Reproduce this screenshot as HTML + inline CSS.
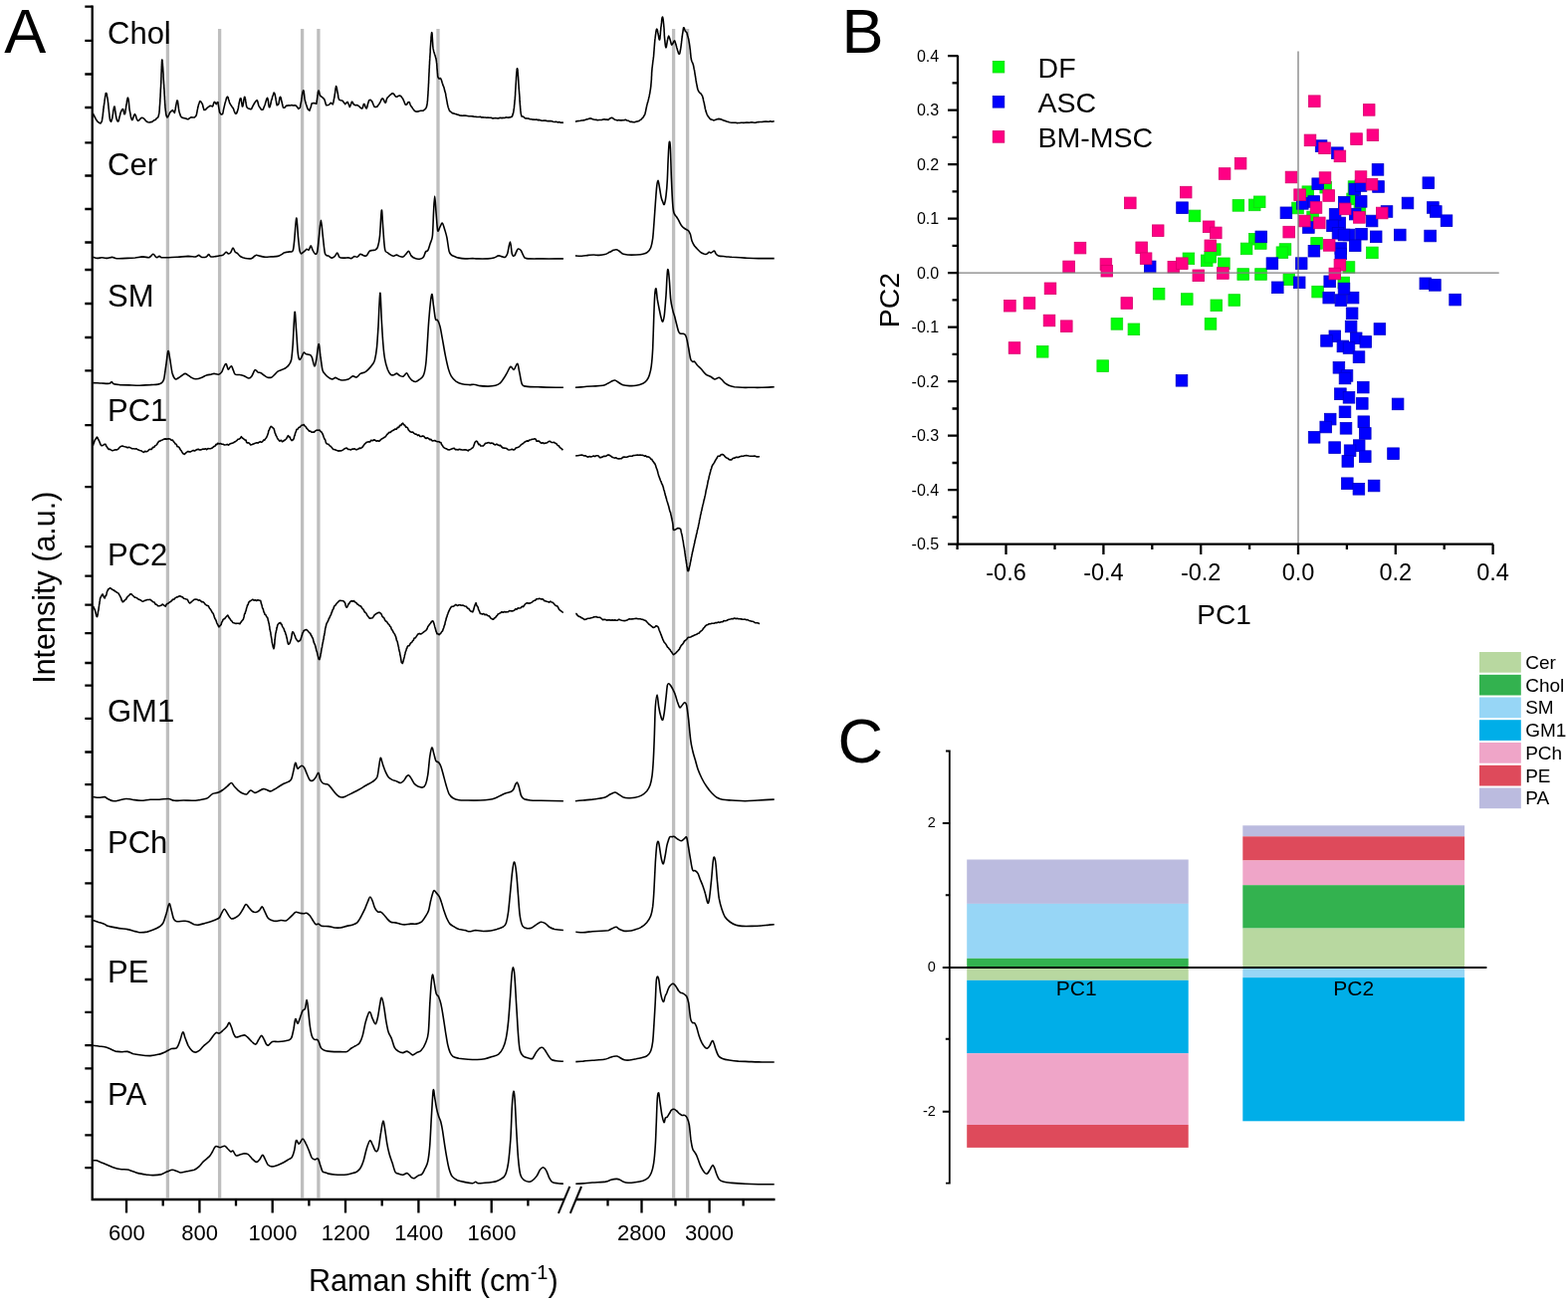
<!DOCTYPE html>
<html><head><meta charset="utf-8"><title>Figure</title>
<style>html,body{margin:0;padding:0;background:#fff;}svg{display:block;}</style></head>
<body><svg width="1575" height="1309" viewBox="0 0 1575 1309" font-family="'Liberation Sans', Arial, sans-serif" fill="#000">
<line x1="168.4" y1="29" x2="168.4" y2="1203.5" stroke="#bebebe" stroke-width="3.3"/>
<line x1="220.6" y1="29" x2="220.6" y2="1203.5" stroke="#bebebe" stroke-width="3.3"/>
<line x1="303.6" y1="29" x2="303.6" y2="1203.5" stroke="#bebebe" stroke-width="3.3"/>
<line x1="319.9" y1="29" x2="319.9" y2="1203.5" stroke="#bebebe" stroke-width="3.3"/>
<line x1="440.0" y1="29" x2="440.0" y2="1203.5" stroke="#bebebe" stroke-width="3.3"/>
<line x1="676.6" y1="29" x2="676.6" y2="1203.5" stroke="#bebebe" stroke-width="3.3"/>
<line x1="690.6" y1="29" x2="690.6" y2="1203.5" stroke="#bebebe" stroke-width="3.3"/>
<path d="M93.4,113.8 L93.7,114.5 L94.3,115.9 L94.9,116.9 L95.6,118.5 L96.3,119.7 L96.9,120.5 L97.9,122.1 L99.0,122.8 L99.9,123.5 L101.1,123.9 L102.2,122.0 L102.4,121.5 L102.5,120.9 L102.7,119.4 L102.9,118.3 L103.0,117.3 L103.2,116.2 L103.4,114.6 L103.5,113.1 L103.7,112.1 L103.8,110.1 L104.0,109.3 L104.2,107.7 L104.3,106.4 L104.5,105.3 L104.7,103.9 L104.9,102.7 L105.1,100.8 L105.3,99.5 L105.5,98.2 L105.7,96.7 L105.9,95.7 L106.1,94.4 L106.3,93.8 L106.5,93.5 L106.8,93.7 L107.1,94.1 L107.4,95.2 L107.6,96.9 L108.0,98.8 L108.3,100.8 L108.4,102.1 L108.6,103.1 L108.7,104.0 L108.8,105.6 L109.0,107.0 L109.1,108.6 L109.3,110.0 L109.4,111.3 L109.6,113.2 L109.7,114.1 L109.9,115.7 L110.0,117.2 L110.2,118.0 L110.3,119.2 L110.4,119.8 L110.6,120.9 L111.6,122.2 L112.6,119.3 L112.8,118.6 L113.0,117.0 L113.2,115.8 L113.5,114.1 L113.7,112.4 L113.9,110.8 L114.2,109.6 L114.4,108.5 L114.6,107.4 L114.8,107.1 L115.1,107.0 L115.3,108.1 L115.5,109.2 L115.7,110.9 L115.9,112.3 L116.1,113.6 L116.3,115.2 L116.5,116.8 L116.7,117.4 L117.1,119.6 L117.6,121.0 L118.1,122.0 L118.6,122.0 L119.0,121.8 L119.4,120.3 L119.7,118.9 L120.1,117.3 L120.5,116.0 L120.9,114.0 L121.2,113.1 L122.0,111.2 L122.8,110.0 L123.5,109.5 L124.0,110.8 L124.4,112.7 L124.8,114.6 L125.4,114.6 L125.5,114.3 L125.8,113.3 L126.0,111.5 L126.2,110.0 L126.5,108.4 L126.7,106.7 L127.0,105.0 L127.3,103.4 L127.5,101.6 L127.7,100.1 L128.0,99.3 L128.2,98.5 L128.4,98.2 L128.6,98.6 L128.8,99.0 L129.0,99.8 L129.2,101.1 L129.4,102.6 L129.5,103.9 L129.7,106.0 L129.8,107.6 L130.0,109.3 L130.2,110.6 L130.4,111.6 L130.7,113.2 L131.0,114.7 L131.3,116.7 L131.6,117.8 L132.0,119.1 L132.3,120.1 L132.7,120.6 L133.2,120.3 L133.7,118.7 L134.3,116.8 L134.8,115.4 L135.4,114.7 L135.9,115.4 L136.4,116.3 L136.9,118.3 L137.5,119.6 L138.0,120.6 L138.5,121.4 L139.8,120.7 L141.0,119.2 L142.5,118.2 L144.1,118.7 L144.9,119.5 L145.6,120.3 L146.4,121.4 L147.1,122.0 L148.6,122.8 L150.2,123.0 L151.4,122.6 L152.8,122.4 L154.0,121.3 L155.1,120.6 L156.1,120.5 L157.0,119.3 L157.8,118.4 L158.5,118.2 L159.2,116.6 L159.8,113.9 L159.9,113.4 L160.0,112.5 L160.1,111.5 L160.2,110.2 L160.3,109.2 L160.3,107.9 L160.4,107.1 L160.5,105.7 L160.6,104.6 L160.7,103.0 L160.8,101.6 L160.8,100.6 L160.9,99.3 L161.0,97.9 L161.1,96.4 L161.1,95.1 L161.2,93.6 L161.3,91.9 L161.3,90.8 L161.4,89.4 L161.5,87.9 L161.6,86.6 L161.6,85.6 L161.7,84.2 L161.8,83.1 L161.8,81.7 L161.9,79.8 L161.9,78.5 L162.0,76.9 L162.0,75.3 L162.1,73.3 L162.2,71.6 L162.2,70.0 L162.3,68.4 L162.3,67.0 L162.4,65.9 L162.4,64.8 L162.5,63.6 L162.5,62.3 L162.6,61.6 L162.6,61.0 L162.7,60.0 L162.8,60.0 L162.8,60.1 L162.9,60.1 L163.0,60.4 L163.1,60.8 L163.2,61.3 L163.2,62.6 L163.3,63.4 L163.4,64.8 L163.5,66.2 L163.6,67.3 L163.7,68.8 L163.8,70.7 L163.9,72.1 L164.0,73.4 L164.1,75.0 L164.1,76.7 L164.2,78.8 L164.3,80.3 L164.4,81.4 L164.5,83.3 L164.6,84.7 L164.7,85.8 L164.7,86.9 L164.8,88.3 L164.9,89.4 L165.0,90.7 L165.1,92.6 L165.1,93.8 L165.2,95.0 L165.3,96.6 L165.4,97.7 L165.4,99.3 L165.5,100.5 L165.6,101.4 L165.6,102.7 L165.7,103.9 L165.8,105.1 L165.9,106.4 L165.9,107.2 L166.0,108.3 L166.1,109.0 L166.2,110.3 L166.5,112.4 L166.7,114.3 L167.0,115.8 L167.3,116.9 L167.7,117.3 L168.0,118.0 L168.6,117.4 L169.3,116.1 L170.1,114.4 L170.8,112.9 L172.2,111.5 L173.5,110.7 L174.4,112.3 L175.3,113.3 L175.6,112.2 L175.8,111.2 L176.1,110.0 L176.4,108.2 L176.7,106.4 L177.0,104.9 L177.3,103.4 L177.6,102.3 L177.8,101.1 L178.1,101.0 L178.3,101.0 L178.5,101.7 L178.7,103.1 L178.9,104.4 L179.1,106.0 L179.3,107.7 L179.5,109.4 L179.7,110.5 L179.9,111.7 L180.3,113.2 L180.7,114.6 L181.2,116.0 L181.7,116.9 L182.2,117.7 L183.6,118.4 L185.2,118.7 L186.5,119.0 L187.8,119.6 L189.0,119.8 L190.5,118.6 L192.1,117.7 L193.6,118.0 L195.3,118.0 L196.7,116.7 L197.1,115.9 L197.4,115.0 L197.7,113.5 L198.0,112.1 L198.2,110.6 L198.5,109.5 L198.7,108.3 L199.0,107.3 L199.5,105.0 L200.0,103.7 L200.4,102.5 L200.9,101.5 L202.0,102.4 L203.1,104.3 L203.5,104.9 L203.8,106.8 L204.2,108.0 L204.6,109.3 L205.0,110.4 L206.5,110.1 L208.1,108.4 L209.1,107.7 L210.2,106.9 L211.1,106.2 L212.4,106.6 L213.4,106.9 L213.9,106.3 L214.4,104.4 L214.8,103.3 L215.3,102.4 L216.3,103.2 L217.2,104.7 L218.0,103.2 L218.8,102.5 L219.0,102.9 L219.2,104.4 L219.4,105.6 L219.6,107.1 L219.8,108.1 L220.0,109.6 L220.3,110.9 L220.5,112.5 L220.7,113.0 L222.0,114.9 L223.3,114.6 L223.7,114.2 L224.0,113.0 L224.3,111.3 L224.6,109.7 L224.9,108.6 L225.3,106.9 L225.6,105.6 L226.0,103.9 L226.4,102.4 L226.8,101.2 L227.2,99.6 L227.6,98.1 L228.0,97.8 L228.4,97.2 L228.8,97.6 L229.2,98.1 L229.6,100.0 L230.1,101.1 L230.5,103.0 L231.0,104.0 L231.7,105.2 L232.5,106.4 L233.3,107.7 L234.0,108.4 L234.6,109.6 L235.1,111.2 L235.6,112.4 L236.1,113.5 L236.6,114.2 L237.6,113.9 L238.6,111.4 L238.8,110.6 L239.1,109.5 L239.4,108.4 L239.6,106.6 L239.9,105.2 L240.2,103.5 L240.5,102.1 L240.8,100.6 L241.1,99.7 L241.4,98.8 L241.6,98.8 L242.0,98.9 L242.3,99.9 L242.5,101.7 L242.8,103.9 L243.1,105.1 L243.3,106.8 L243.6,107.0 L243.9,106.5 L244.1,105.6 L244.4,103.7 L244.7,102.0 L244.9,100.3 L245.2,98.9 L245.5,97.5 L245.7,97.3 L246.0,97.6 L246.2,98.5 L246.5,99.7 L246.7,101.2 L247.0,102.8 L247.2,104.4 L247.5,105.8 L247.7,107.2 L248.7,108.6 L249.7,109.1 L251.8,109.8 L252.5,109.5 L253.1,108.4 L253.8,106.9 L254.6,105.4 L255.4,104.0 L256.4,102.4 L257.3,101.3 L258.1,100.7 L258.6,101.5 L259.0,102.6 L259.4,104.6 L259.9,106.1 L260.4,107.1 L261.4,108.5 L262.6,110.3 L263.7,110.3 L264.4,109.7 L264.9,108.3 L265.4,107.0 L266.0,105.5 L266.4,104.3 L266.9,102.6 L267.3,101.2 L267.8,99.5 L268.2,98.8 L268.6,98.4 L268.9,99.2 L269.2,100.3 L269.5,102.1 L269.7,104.1 L270.0,105.8 L270.3,107.3 L270.6,107.8 L270.9,107.7 L271.3,106.6 L271.7,105.1 L272.1,103.5 L272.4,101.5 L272.9,100.1 L273.3,99.1 L273.7,96.9 L274.2,95.7 L274.7,94.3 L275.1,93.1 L275.6,93.5 L275.9,94.1 L276.1,94.8 L276.4,96.1 L276.7,97.6 L277.0,98.8 L277.2,100.7 L277.5,102.2 L277.7,103.8 L278.0,104.9 L278.2,105.7 L279.7,104.8 L280.0,104.0 L280.3,102.3 L280.6,100.6 L280.9,98.7 L281.3,97.5 L281.7,97.4 L282.0,98.0 L282.3,98.8 L282.6,100.6 L283.0,102.0 L283.4,103.7 L283.7,105.3 L284.1,106.8 L284.4,107.8 L284.7,108.3 L285.8,108.3 L287.3,106.4 L288.5,106.1 L290.0,105.9 L291.5,106.0 L293.0,105.6 L294.2,106.0 L295.9,105.7 L297.2,106.0 L298.5,107.5 L299.8,109.3 L301.0,108.4 L301.3,108.0 L301.6,107.2 L301.8,105.6 L302.1,104.1 L302.4,102.6 L302.7,101.1 L302.9,99.5 L303.2,97.7 L303.4,96.2 L303.7,94.4 L303.9,93.1 L304.1,92.1 L304.4,91.6 L304.6,90.9 L304.9,91.0 L305.1,91.3 L305.3,92.6 L305.5,94.2 L305.7,96.2 L305.9,98.1 L306.1,99.7 L306.4,100.8 L306.7,102.3 L307.1,103.6 L307.5,105.0 L308.0,106.1 L308.4,107.7 L308.8,108.3 L309.1,109.6 L311.0,111.1 L311.3,109.8 L311.7,108.9 L312.1,107.7 L312.5,106.4 L312.9,104.8 L313.2,103.9 L315.5,103.5 L317.8,104.3 L318.0,103.0 L318.2,102.0 L318.4,100.3 L318.6,98.9 L318.8,97.5 L319.0,95.3 L319.2,94.2 L319.4,92.7 L319.6,91.9 L319.8,91.2 L320.2,91.0 L320.7,93.0 L321.1,94.9 L321.6,96.1 L322.8,97.0 L323.9,97.9 L324.9,98.8 L325.9,100.1 L326.3,101.2 L326.8,102.9 L327.2,104.4 L327.7,105.7 L330.0,105.5 L331.2,104.5 L332.3,103.3 L333.3,103.9 L334.3,104.8 L334.5,104.0 L334.8,103.2 L335.1,101.6 L335.3,100.3 L335.6,98.9 L335.9,97.8 L336.1,96.2 L336.3,94.7 L336.6,93.1 L336.8,91.2 L337.0,89.5 L337.2,88.1 L337.4,87.5 L337.6,86.6 L337.9,87.3 L338.2,88.0 L338.5,89.6 L338.8,91.6 L339.1,93.0 L339.4,94.5 L339.7,96.4 L339.9,97.9 L340.3,99.2 L340.7,100.1 L342.1,100.8 L343.7,101.0 L344.5,101.7 L345.3,103.0 L346.1,103.7 L346.8,104.7 L348.0,103.3 L349.0,102.4 L349.6,103.3 L350.2,104.8 L350.8,106.2 L351.3,107.4 L351.9,106.2 L352.5,104.8 L353.0,103.1 L353.6,102.2 L354.3,102.9 L355.0,104.5 L355.9,105.2 L357.1,105.8 L358.4,105.6 L359.7,106.1 L360.7,106.8 L361.7,107.8 L362.7,108.7 L363.5,109.0 L364.2,108.5 L364.8,106.5 L365.3,104.7 L365.8,104.4 L366.4,105.3 L366.9,106.8 L367.5,108.4 L368.1,109.0 L368.5,108.3 L368.9,107.3 L369.2,105.6 L369.6,104.1 L370.1,102.5 L370.5,101.3 L370.8,100.7 L372.1,100.2 L373.4,101.5 L374.0,102.5 L374.6,104.0 L375.2,105.5 L375.8,106.8 L376.5,107.4 L377.7,107.5 L379.0,107.0 L380.3,105.1 L380.9,104.4 L381.6,103.2 L382.2,102.0 L382.9,100.3 L383.5,99.3 L384.1,98.8 L384.9,99.4 L385.7,100.9 L386.5,102.7 L387.1,103.3 L387.7,102.6 L388.1,100.6 L388.7,98.9 L389.4,97.8 L390.3,97.0 L391.5,95.7 L392.6,94.9 L393.8,93.9 L394.8,93.8 L395.9,94.8 L396.8,96.2 L397.8,97.2 L399.1,97.1 L400.4,96.2 L401.6,96.0 L402.7,96.6 L403.7,97.9 L404.7,99.3 L405.3,100.7 L405.9,102.0 L406.5,103.5 L407.1,104.8 L407.7,105.3 L408.8,104.7 L409.8,102.8 L410.8,102.5 L411.3,102.7 L411.8,104.3 L412.3,105.6 L413.0,106.7 L413.8,107.7 L414.7,109.1 L415.7,110.5 L416.7,111.6 L417.6,112.0 L418.9,112.1 L420.2,111.9 L421.4,111.5 L422.7,111.3 L424.0,111.3 L425.2,111.2 L426.4,110.2 L427.4,109.4 L428.3,107.6 L428.5,107.1 L428.7,106.2 L428.9,105.6 L429.0,104.5 L429.2,103.4 L429.3,102.1 L429.5,101.0 L429.6,98.8 L429.8,96.1 L429.9,95.1 L429.9,94.5 L430.0,93.6 L430.0,92.4 L430.1,91.3 L430.2,90.4 L430.2,89.4 L430.3,87.8 L430.4,86.4 L430.4,85.3 L430.5,84.1 L430.6,82.9 L430.6,81.3 L430.7,80.3 L430.7,78.8 L430.8,77.3 L430.9,75.7 L430.9,74.8 L431.0,73.0 L431.1,71.9 L431.1,70.2 L431.2,68.8 L431.3,67.8 L431.3,66.2 L431.4,65.3 L431.5,63.8 L431.5,62.4 L431.6,61.2 L431.7,60.2 L431.7,59.2 L431.8,58.4 L431.9,56.4 L432.0,55.0 L432.1,53.3 L432.2,52.2 L432.2,50.1 L432.3,48.5 L432.4,47.0 L432.5,45.7 L432.6,44.5 L432.7,43.1 L432.8,41.6 L432.9,40.5 L433.0,39.2 L433.0,37.7 L433.1,36.6 L433.2,36.1 L433.3,35.1 L433.4,34.0 L433.5,33.8 L433.5,33.2 L433.6,32.9 L433.7,32.7 L433.9,33.0 L434.0,33.6 L434.1,34.9 L434.2,36.2 L434.3,38.1 L434.4,39.3 L434.5,41.5 L434.6,42.8 L434.7,44.6 L434.8,46.5 L435.0,48.0 L435.1,48.9 L435.4,50.1 L435.7,51.7 L436.1,52.8 L436.5,54.3 L436.8,55.0 L437.2,56.2 L437.6,57.8 L437.9,58.6 L438.2,60.3 L438.4,61.7 L438.5,62.9 L438.7,63.8 L438.8,65.2 L438.9,66.6 L439.0,68.6 L439.1,69.7 L439.3,71.4 L439.4,72.9 L439.5,73.8 L439.6,75.0 L439.7,76.5 L439.9,77.2 L440.0,77.8 L441.2,79.1 L442.5,78.6 L442.9,79.3 L443.3,80.2 L443.8,81.8 L444.2,83.2 L444.6,84.3 L445.0,85.8 L445.4,86.4 L445.8,87.6 L446.2,88.8 L446.5,90.3 L446.9,91.7 L447.3,93.1 L447.6,94.0 L447.8,95.3 L448.0,96.7 L448.3,98.3 L448.5,99.3 L448.8,101.1 L449.1,102.5 L449.3,104.0 L449.6,105.3 L449.9,106.4 L450.1,107.4 L450.4,108.3 L451.1,110.2 L451.7,111.6 L452.5,112.0 L453.4,112.8 L454.4,113.7 L455.6,113.9 L456.8,114.3 L458.2,114.6 L459.5,115.3 L460.7,115.4 L462.0,116.0 L463.2,116.1 L464.5,116.3 L465.9,116.0 L467.1,116.1 L468.4,116.2 L469.7,116.5 L471.0,116.8 L472.2,116.7 L473.5,116.7 L474.8,116.9 L476.0,117.1 L477.3,117.2 L478.6,117.4 L479.8,117.5 L481.1,117.5 L482.4,117.3 L483.7,117.9 L484.9,117.7 L486.2,118.0 L487.5,118.0 L488.7,118.3 L490.0,118.1 L491.3,118.2 L492.5,118.3 L493.8,118.4 L495.1,118.9 L496.3,118.8 L497.6,118.6 L498.9,118.7 L500.2,119.0 L501.4,118.6 L502.7,118.3 L504.0,118.6 L505.2,118.4 L506.6,118.5 L508.0,117.9 L509.4,118.0 L510.7,118.1 L511.9,117.9 L512.9,117.8 L514.4,117.0 L515.1,115.1 L515.3,114.3 L515.5,113.5 L515.7,113.2 L515.8,112.0 L516.0,111.2 L516.1,109.8 L516.3,108.9 L516.5,107.3 L516.6,105.7 L516.8,104.5 L516.9,102.9 L517.1,100.5 L517.2,99.9 L517.3,98.8 L517.4,97.4 L517.5,96.2 L517.6,94.8 L517.6,93.4 L517.7,92.0 L517.8,90.7 L517.9,89.1 L518.0,87.3 L518.1,85.6 L518.2,84.2 L518.3,82.9 L518.4,81.1 L518.5,79.6 L518.5,78.1 L518.6,77.1 L518.7,75.6 L518.8,74.1 L518.9,73.0 L519.0,72.1 L519.1,71.3 L519.2,70.6 L519.2,69.6 L519.3,69.2 L519.4,69.2 L519.5,68.8 L519.7,68.9 L519.8,69.4 L519.9,70.5 L520.0,71.1 L520.1,72.4 L520.2,73.7 L520.3,75.2 L520.5,77.1 L520.6,78.9 L520.7,80.3 L520.8,81.9 L520.9,84.0 L521.0,85.3 L521.1,86.8 L521.2,88.8 L521.3,89.6 L521.4,91.0 L521.5,92.0 L521.6,93.6 L521.7,94.6 L521.8,95.8 L521.9,97.0 L522.0,98.7 L522.0,100.2 L522.1,101.7 L522.2,102.6 L522.3,104.2 L522.4,105.4 L522.5,106.7 L522.6,107.7 L522.7,109.0 L522.8,110.2 L522.9,111.4 L523.0,111.9 L523.1,113.0 L523.2,113.9 L523.9,116.9 L524.7,117.0 L525.8,117.3 L526.9,118.4 L528.2,118.9 L529.6,119.0 L531.1,119.1 L532.3,119.8 L533.5,119.7 L534.8,120.1 L536.1,120.1 L537.5,120.3 L538.8,120.1 L540.0,120.6 L541.2,120.4 L542.5,120.7 L543.7,121.1 L545.0,121.2 L546.4,121.0 L547.6,121.1 L549.0,121.4 L550.4,121.6 L551.7,121.6 L553.1,121.6 L554.4,121.8 L555.5,122.2 L557.0,122.5 L558.3,122.2 L559.5,122.6 L560.6,122.9 L561.6,122.6 L563.3,123.3 L564.8,123.0 L565.9,123.4" fill="none" stroke="#000" stroke-width="1.6" stroke-linejoin="round"/>
<path d="M577.9,122.1 L578.8,122.0 L580.1,121.6 L581.6,121.5 L583.0,121.3 L584.3,121.0 L585.7,120.9 L587.0,120.6 L588.3,120.3 L589.6,119.7 L590.9,119.6 L592.2,119.1 L593.4,118.9 L594.8,119.4 L596.2,120.0 L597.7,120.3 L599.0,120.4 L600.4,120.7 L601.7,120.5 L603.0,120.5 L604.4,120.5 L605.7,120.0 L607.0,119.9 L608.4,120.1 L609.7,120.1 L611.0,120.4 L612.2,119.4 L613.2,118.7 L614.3,118.2 L615.4,118.6 L616.4,119.3 L617.7,120.3 L618.9,120.5 L620.2,120.9 L621.6,120.5 L623.0,120.9 L624.4,120.9 L625.8,120.7 L627.1,120.6 L628.3,120.3 L629.8,121.0 L631.1,121.2 L632.3,121.9 L633.6,122.4 L635.0,122.4 L636.2,122.8 L637.6,122.8 L639.0,122.1 L640.3,122.0 L641.8,121.6 L643.1,120.5 L644.3,119.9 L645.2,118.6 L646.1,117.9 L646.9,116.3 L647.7,115.0 L648.0,114.2 L648.3,112.7 L648.6,111.6 L648.8,110.4 L649.1,109.0 L649.4,107.5 L649.7,106.2 L649.9,105.1 L650.2,104.3 L650.5,103.0 L650.9,101.9 L651.2,100.4 L651.5,99.4 L651.8,97.9 L652.1,96.9 L652.3,95.7 L652.6,94.3 L652.8,93.3 L653.0,91.9 L653.2,90.7 L653.4,89.6 L653.6,87.8 L653.8,86.8 L653.9,85.1 L654.0,83.9 L654.1,83.0 L654.2,81.5 L654.3,80.6 L654.4,79.2 L654.4,77.7 L654.5,76.6 L654.6,75.2 L654.6,73.7 L654.7,72.7 L654.8,71.1 L654.9,70.3 L655.0,68.9 L655.1,67.8 L655.3,66.7 L655.4,65.3 L655.6,64.1 L655.7,62.8 L655.9,61.5 L656.0,60.4 L656.2,59.2 L656.3,58.3 L656.5,56.9 L656.6,55.7 L656.7,54.7 L656.8,53.1 L656.9,51.9 L657.0,50.8 L657.1,49.2 L657.2,47.9 L657.3,46.8 L657.4,45.4 L657.5,44.2 L657.6,42.9 L657.7,41.9 L657.8,40.8 L657.9,39.5 L658.1,38.2 L658.3,36.6 L658.5,34.9 L658.7,33.8 L658.9,32.1 L659.1,30.9 L659.3,29.9 L659.5,29.5 L659.7,29.2 L660.0,29.4 L660.4,30.5 L660.7,32.2 L661.1,34.0 L661.4,35.7 L661.8,38.0 L662.2,39.8 L662.6,40.0 L662.7,39.3 L662.9,38.7 L663.0,37.5 L663.1,36.0 L663.3,34.9 L663.4,33.0 L663.5,31.7 L663.7,30.2 L663.8,28.7 L663.9,27.3 L664.1,26.5 L664.3,24.4 L664.5,22.9 L664.6,21.3 L664.8,19.4 L665.0,18.1 L665.2,17.4 L665.4,17.0 L665.6,17.3 L665.9,18.3 L666.1,19.3 L666.3,21.1 L666.5,23.0 L666.7,24.8 L666.8,26.2 L666.9,27.3 L667.0,28.5 L667.1,29.4 L667.1,31.1 L667.2,32.5 L667.3,33.7 L667.3,35.1 L667.4,36.3 L667.5,37.4 L667.6,38.5 L667.7,39.5 L667.9,41.3 L668.1,43.3 L668.3,45.1 L668.5,46.4 L668.8,47.4 L669.0,47.8 L669.3,47.1 L669.5,46.0 L669.8,44.2 L670.1,42.6 L670.3,41.0 L670.7,39.4 L671.0,38.0 L671.3,37.0 L671.7,36.2 L672.1,37.0 L672.5,37.9 L673.0,39.5 L673.4,40.9 L673.9,42.7 L674.3,44.4 L674.7,45.1 L675.4,44.3 L676.1,43.2 L676.9,41.5 L677.7,40.9 L678.1,42.0 L678.5,43.3 L679.0,45.1 L679.4,46.3 L679.8,47.9 L680.2,49.1 L680.6,50.7 L681.0,51.8 L681.7,53.9 L682.3,54.3 L682.7,53.9 L683.0,52.7 L683.3,51.0 L683.7,48.9 L683.8,48.1 L684.0,46.8 L684.1,46.0 L684.3,44.3 L684.5,42.9 L684.6,41.6 L684.8,40.7 L684.9,39.1 L685.1,37.7 L685.3,36.5 L685.4,35.4 L685.6,34.0 L685.9,32.3 L686.1,30.7 L686.3,29.4 L686.5,28.1 L686.7,27.7 L687.2,27.9 L687.8,29.7 L688.3,31.2 L689.1,32.0 L689.9,32.8 L690.3,34.2 L690.6,35.5 L691.0,36.9 L691.3,38.0 L691.7,39.5 L691.9,40.7 L692.1,41.9 L692.4,43.5 L692.6,44.8 L692.8,46.2 L693.0,47.8 L693.1,48.8 L693.3,49.8 L693.4,51.0 L693.5,52.3 L693.6,54.0 L693.8,55.0 L693.9,56.3 L694.0,57.6 L694.2,58.5 L694.3,59.5 L694.8,61.2 L695.3,62.5 L695.8,63.4 L696.3,64.9 L696.6,66.2 L696.8,67.0 L697.0,68.3 L697.2,69.4 L697.5,70.4 L697.7,71.9 L697.9,73.2 L698.1,74.6 L698.3,75.6 L698.5,77.0 L698.7,78.2 L698.9,79.3 L699.1,80.9 L699.3,81.8 L699.5,83.3 L699.7,84.2 L699.9,85.1 L700.1,86.2 L700.5,88.3 L700.9,89.8 L701.2,90.4 L701.7,91.7 L702.6,92.8 L703.7,93.8 L704.3,94.4 L705.0,95.6 L705.7,96.9 L706.0,98.3 L706.3,99.2 L706.6,101.0 L706.9,102.1 L707.3,103.5 L707.5,105.0 L707.8,106.3 L708.1,107.5 L708.3,109.2 L708.7,110.2 L709.0,111.8 L709.5,113.1 L710.0,114.5 L710.5,115.7 L711.1,116.6 L711.7,117.6 L712.7,118.8 L713.9,119.9 L715.0,120.1 L716.7,120.9 L718.3,120.5 L720.3,119.8 L721.6,119.4 L723.0,119.6 L724.5,119.9 L726.3,120.7 L727.4,121.3 L728.5,121.4 L729.8,122.0 L731.0,122.3 L732.3,122.8 L733.5,123.0 L734.9,123.2 L736.3,123.2 L737.6,123.3 L738.8,123.2 L740.2,123.6 L741.6,123.5 L743.0,123.5 L744.3,123.2 L745.6,123.3 L746.9,123.4 L748.3,123.3 L749.7,123.0 L751.0,123.1 L752.3,123.3 L753.7,123.0 L755.0,122.9 L756.3,123.0 L757.7,123.2 L759.0,123.2 L760.4,122.7 L761.8,122.6 L763.2,122.5 L764.5,122.5 L765.8,122.4 L767.0,122.2 L768.5,122.1 L769.8,122.0 L771.1,122.3 L772.3,122.2 L773.8,121.8 L775.3,122.3 L776.7,121.9 L777.7,122.0" fill="none" stroke="#000" stroke-width="1.6" stroke-linejoin="round"/>
<path d="M93.4,258.2 C94.1,258.4 96.1,259.3 97.6,259.4 C99.1,259.5 100.7,258.8 102.2,258.8 C103.7,258.8 105.0,259.5 106.8,259.4 C108.5,259.4 111.1,258.3 112.9,258.4 C114.6,258.4 114.9,259.6 117.4,259.7 C120.0,259.9 125.0,259.6 128.1,259.4 C131.1,259.3 133.2,259.2 135.7,259.0 C138.3,258.7 141.0,258.0 143.3,257.9 C145.6,257.9 148.0,258.8 149.4,258.7 C150.8,258.5 151.0,257.7 151.7,257.1 C152.5,256.6 153.2,255.0 154.0,255.2 C154.8,255.3 155.7,257.3 156.3,257.9 C156.9,258.5 157.2,258.7 157.8,258.7 C158.4,258.6 159.3,257.4 160.1,257.4 C160.9,257.4 160.9,258.5 162.4,258.7 C163.9,258.9 166.6,258.7 169.2,258.7 C171.9,258.6 175.1,258.4 178.4,258.2 C181.7,258.0 186.0,257.5 189.0,257.4 C192.1,257.4 194.9,258.1 196.7,257.9 C198.4,257.7 198.7,256.3 199.7,256.4 C200.7,256.5 201.5,258.1 202.8,258.4 C204.0,258.6 206.2,258.4 207.3,257.9 C208.5,257.4 208.9,255.6 209.6,255.6 C210.4,255.6 210.8,257.6 211.9,257.9 C213.0,258.2 215.0,257.8 216.5,257.6 C218.0,257.4 219.8,257.1 221.0,256.8 C222.3,256.6 223.1,256.7 224.1,256.1 C225.1,255.5 226.3,253.5 227.1,253.3 C228.0,253.1 228.7,254.8 229.4,254.9 C230.2,254.9 231.0,254.6 231.7,253.6 C232.5,252.7 233.2,249.1 234.0,249.1 C234.8,249.0 235.5,252.4 236.3,253.3 C237.0,254.2 237.8,253.9 238.6,254.6 C239.3,255.2 240.0,256.5 240.9,257.1 C241.7,257.8 242.6,258.2 243.9,258.7 C245.2,259.1 247.0,259.6 248.5,259.7 C250.0,259.9 251.7,260.0 253.0,259.4 C254.4,258.9 255.6,256.8 256.9,256.4 C258.1,256.0 259.5,256.9 260.7,257.1 C261.8,257.4 262.7,257.7 263.7,257.9 C264.7,258.1 265.2,258.2 266.8,258.2 C268.3,258.2 270.8,258.0 272.9,257.9 C274.9,257.8 277.3,257.8 279.0,257.4 C280.6,257.1 281.7,256.2 282.8,255.6 C283.8,255.1 284.2,254.5 285.0,254.1 C285.9,253.7 287.1,253.5 288.1,253.3 C289.1,253.1 290.1,253.1 291.1,252.9 C292.2,252.6 293.4,253.8 294.2,251.8 C295.0,249.9 295.1,246.6 295.7,241.1 C296.3,235.7 297.1,219.6 297.7,219.0 C298.3,218.5 299.0,232.6 299.5,238.1 C300.1,243.6 300.5,249.0 301.0,251.8 C301.6,254.6 302.0,254.6 302.6,254.9 C303.2,255.1 303.9,253.8 304.6,253.3 C305.2,252.8 305.8,252.3 306.4,251.8 C307.0,251.3 307.6,250.4 308.2,250.3 C308.8,250.2 309.5,251.6 310.2,251.0 C310.9,250.5 311.5,246.9 312.2,246.9 C312.8,246.9 313.3,249.7 314.0,251.0 C314.7,252.4 315.5,254.5 316.3,254.9 C317.0,255.2 317.9,256.1 318.6,253.3 C319.3,250.5 319.8,243.4 320.4,238.1 C321.0,232.8 321.7,221.3 322.4,221.3 C323.0,221.3 323.7,232.8 324.4,238.1 C325.0,243.4 325.6,250.3 326.2,253.3 C326.7,256.4 327.1,255.7 327.7,256.4 C328.3,257.0 329.1,256.7 330.0,257.1 C330.9,257.6 332.0,259.1 333.0,259.1 C334.1,259.2 335.1,258.5 336.1,257.6 C337.1,256.8 338.0,254.0 338.8,254.1 C339.7,254.2 339.9,257.5 341.0,258.4 C342.0,259.2 343.8,259.1 345.2,259.1 C346.7,259.2 348.5,258.8 349.8,258.8 C351.1,258.9 351.8,259.8 352.9,259.6 C353.9,259.4 354.9,257.9 355.9,257.6 C356.9,257.4 357.9,258.5 359.0,258.1 C360.0,257.7 361.0,255.6 362.0,255.3 C363.0,255.1 364.0,256.3 365.0,256.6 C366.1,256.8 367.1,257.6 368.1,256.9 C369.1,256.1 370.1,253.2 371.1,252.3 C372.2,251.4 373.2,251.8 374.2,251.5 C375.2,251.3 376.3,251.4 377.2,250.8 C378.1,250.1 378.8,250.0 379.5,247.7 C380.2,245.4 380.9,243.1 381.5,237.0 C382.1,231.0 382.8,212.2 383.3,211.1 C383.9,210.1 384.3,224.3 384.9,231.0 C385.4,237.6 385.9,247.0 386.7,250.8 C387.4,254.6 388.5,252.9 389.4,253.8 C390.4,254.7 391.5,255.5 392.5,256.1 C393.5,256.7 394.6,257.2 395.5,257.2 C396.5,257.2 397.3,256.0 398.3,256.1 C399.3,256.2 400.6,257.3 401.6,257.6 C402.7,257.9 403.7,258.5 404.7,258.1 C405.7,257.7 406.7,256.3 407.7,255.3 C408.7,254.4 409.6,252.0 410.5,252.3 C411.3,252.5 412.0,255.6 413.0,256.9 C414.1,258.1 415.5,259.0 416.9,259.6 C418.3,260.2 420.0,260.4 421.4,260.2 C422.8,260.0 424.2,259.6 425.2,258.4 C426.3,257.2 426.8,254.2 427.5,253.0 C428.3,251.9 429.0,252.9 429.8,251.5 C430.6,250.1 431.3,247.1 432.1,244.7 C432.9,242.3 433.8,241.9 434.4,237.0 C434.9,232.2 435.1,222.4 435.4,215.7 C435.8,209.1 436.2,197.1 436.7,197.1 C437.1,197.1 437.7,209.9 438.2,215.7 C438.7,221.5 439.1,229.7 439.7,231.7 C440.3,233.7 441.2,229.2 442.0,227.9 C442.8,226.6 443.5,223.7 444.3,224.1 C445.0,224.5 445.8,227.8 446.6,230.2 C447.3,232.6 448.1,234.9 448.9,238.6 C449.6,242.3 450.4,249.4 451.1,252.3 C451.9,255.2 452.5,255.2 453.4,256.1 C454.3,257.0 455.2,257.1 456.5,257.6 C457.7,258.1 459.3,258.8 461.0,259.1 C462.8,259.5 464.9,259.8 467.1,259.9 C469.4,260.0 472.7,259.6 474.8,259.6 C476.8,259.6 476.8,259.9 479.3,259.9 C481.9,260.0 487.2,260.0 490.0,259.9 C492.8,259.8 494.3,259.7 496.1,259.1 C497.9,258.6 499.4,257.1 500.7,256.9 C501.9,256.6 502.6,257.4 503.7,257.6 C504.9,257.9 506.5,258.9 507.5,258.4 C508.5,257.9 509.0,257.1 509.8,254.6 C510.6,252.0 511.6,243.0 512.4,243.1 C513.2,243.3 513.7,253.0 514.4,255.3 C515.1,257.6 515.9,257.4 516.7,256.9 C517.4,256.3 518.3,253.4 519.0,252.3 C519.6,251.1 519.8,250.1 520.5,250.0 C521.2,249.9 522.3,250.4 523.2,251.5 C524.1,252.7 524.9,255.5 525.8,256.9 C526.7,258.2 525.9,259.1 528.9,259.6 C531.8,260.1 537.2,259.9 543.3,259.9 C549.5,260.0 562.1,259.9 565.9,259.9" fill="none" stroke="#000" stroke-width="1.6" stroke-linejoin="round"/>
<path d="M577.9,256.9 C579.0,257.0 582.2,257.4 584.3,257.3 C586.5,257.2 589.0,256.6 591.0,256.4 C593.0,256.2 594.6,256.0 596.3,256.0 C598.1,256.0 599.8,256.5 601.7,256.4 C603.6,256.3 605.9,256.1 607.7,255.6 C609.4,255.1 610.9,254.0 612.3,253.3 C613.8,252.6 615.2,251.8 616.3,251.3 C617.4,250.9 618.1,250.6 619.0,250.7 C619.9,250.8 620.6,251.3 621.7,252.0 C622.8,252.7 624.1,254.4 625.7,255.1 C627.2,255.7 628.8,255.8 631.0,256.0 C633.2,256.2 636.6,256.1 639.0,256.0 C641.4,255.9 643.8,255.8 645.7,255.3 C647.6,254.9 649.0,254.4 650.3,253.3 C651.7,252.2 652.8,251.0 653.7,248.7 C654.6,246.3 655.1,243.6 655.7,239.3 C656.2,235.1 656.6,229.1 657.0,223.3 C657.4,217.6 657.9,210.7 658.3,204.7 C658.8,198.7 659.2,191.2 659.7,187.3 C660.1,183.4 660.6,181.3 661.0,181.3 C661.4,181.3 661.8,184.6 662.3,187.3 C662.8,190.1 663.5,195.4 664.1,198.0 C664.6,200.6 665.1,201.4 665.7,202.7 C666.2,203.9 666.7,206.3 667.3,205.3 C667.8,204.3 668.5,200.8 669.0,196.7 C669.5,192.6 670.0,187.3 670.3,180.7 C670.7,174.0 670.9,163.0 671.3,156.7 C671.6,150.3 672.0,144.0 672.3,142.7 C672.7,141.3 673.1,143.0 673.4,148.7 C673.7,154.3 674.0,167.3 674.3,176.7 C674.7,186.0 675.2,198.4 675.7,204.7 C676.1,210.9 676.3,211.8 677.0,214.0 C677.7,216.2 678.9,216.8 679.7,218.0 C680.4,219.2 681.0,220.1 681.7,221.3 C682.3,222.6 683.0,224.2 683.7,225.3 C684.3,226.4 684.9,227.2 685.7,228.0 C686.4,228.8 687.3,229.3 688.3,230.0 C689.3,230.7 690.8,231.1 691.7,232.0 C692.5,232.9 692.8,233.7 693.4,235.3 C694.0,237.0 694.3,240.1 695.0,242.0 C695.7,243.9 696.5,245.3 697.4,246.7 C698.3,248.0 699.3,248.9 700.3,250.0 C701.4,251.1 702.6,252.5 703.7,253.3 C704.8,254.2 706.0,254.7 707.0,255.1 C708.0,255.4 708.8,255.6 709.7,255.3 C710.6,255.0 711.6,253.6 712.3,253.3 C713.1,253.1 713.5,254.2 714.3,254.0 C715.2,253.8 716.6,251.9 717.4,252.0 C718.2,252.1 718.3,253.8 719.0,254.7 C719.7,255.5 720.1,256.4 721.7,256.9 C723.2,257.4 726.1,257.5 728.3,257.7 C730.6,258.0 731.7,258.0 735.0,258.3 C738.3,258.5 743.9,258.8 748.3,259.1 C752.8,259.3 756.8,259.5 761.7,259.6 C766.6,259.7 775.0,259.6 777.7,259.6" fill="none" stroke="#000" stroke-width="1.6" stroke-linejoin="round"/>
<path d="M93.4,384.6 C94.8,384.6 99.4,384.9 102.2,385.0 C104.9,385.2 108.2,385.6 109.8,385.3 C111.5,385.1 111.3,383.4 112.1,383.5 C112.9,383.6 113.0,385.3 114.4,385.8 C115.8,386.3 117.9,386.4 120.5,386.6 C123.0,386.7 126.3,386.8 129.6,386.9 C132.9,387.0 136.7,387.2 140.3,387.2 C143.8,387.1 147.9,386.7 151.0,386.6 C154.0,386.4 156.7,386.4 158.6,386.1 C160.5,385.8 161.4,385.5 162.4,384.6 C163.4,383.7 163.9,383.9 164.7,380.8 C165.4,377.6 166.2,370.2 167.0,365.5 C167.7,360.8 168.3,353.3 168.9,352.6 C169.6,351.8 170.1,357.3 170.8,361.0 C171.4,364.6 172.2,371.4 173.0,374.7 C173.9,378.0 175.0,380.0 176.1,380.8 C177.2,381.5 178.8,379.9 179.9,379.2 C181.0,378.6 181.9,377.6 183.0,377.0 C184.0,376.3 185.0,375.4 186.0,375.4 C187.0,375.4 188.0,376.3 189.0,377.0 C190.1,377.6 190.8,378.6 192.1,379.2 C193.4,379.9 194.9,380.8 196.7,380.8 C198.4,380.8 201.0,379.9 202.8,379.2 C204.5,378.6 205.8,377.5 207.3,377.0 C208.9,376.4 210.6,376.4 211.9,376.2 C213.2,375.9 213.7,375.4 215.0,375.4 C216.2,375.4 218.3,376.4 219.5,376.2 C220.8,375.9 221.7,375.2 222.6,373.9 C223.5,372.6 224.1,370.0 224.9,368.6 C225.6,367.2 226.5,365.1 227.1,365.5 C227.8,365.9 228.5,370.1 229.0,370.9 C229.5,371.6 229.6,370.6 230.2,370.1 C230.8,369.6 231.8,367.4 232.5,367.8 C233.2,368.2 233.8,371.0 234.5,372.4 C235.1,373.8 235.2,375.5 236.3,376.2 C237.4,376.9 239.3,376.2 240.9,376.5 C242.4,376.7 243.9,377.1 245.4,377.7 C247.0,378.3 248.7,380.0 250.0,380.0 C251.3,380.0 252.0,379.1 253.0,377.7 C254.1,376.3 255.1,372.3 256.1,371.6 C257.1,371.0 258.1,373.4 259.1,373.9 C260.2,374.4 261.2,374.2 262.2,374.7 C263.2,375.2 264.1,376.2 265.2,377.0 C266.4,377.7 267.8,378.9 269.0,379.2 C270.3,379.6 271.7,379.4 272.9,378.9 C274.0,378.4 274.9,377.2 275.9,376.2 C276.9,375.2 277.7,374.0 279.0,373.1 C280.2,372.3 282.1,371.9 283.5,371.3 C284.9,370.7 286.2,370.2 287.3,369.3 C288.5,368.5 289.5,367.7 290.4,366.3 C291.3,364.9 292.0,364.4 292.7,361.0 C293.3,357.5 293.6,353.6 294.2,345.7 C294.7,337.8 295.5,316.3 296.0,313.7 C296.6,311.2 297.0,323.9 297.5,330.5 C298.1,337.1 298.6,348.3 299.1,353.3 C299.6,358.4 300.0,359.9 300.6,361.0 C301.2,362.0 301.8,360.6 302.6,359.4 C303.3,358.3 304.4,354.7 305.2,354.1 C305.9,353.5 306.2,355.2 307.1,355.6 C308.1,356.0 309.9,355.9 311.0,356.4 C312.0,356.9 312.4,356.8 313.2,358.7 C314.1,360.6 315.1,367.4 315.8,367.8 C316.6,368.2 317.1,364.6 317.8,361.0 C318.5,357.3 319.4,346.2 320.1,345.7 C320.8,345.2 321.3,353.6 321.9,357.9 C322.6,362.2 323.2,368.7 323.9,371.6 C324.6,374.5 325.2,374.2 326.2,375.4 C327.2,376.7 328.7,378.3 330.0,379.2 C331.3,380.2 332.7,380.9 333.8,380.9 C335.0,381.0 335.8,379.4 336.9,379.4 C337.9,379.4 338.8,380.5 339.9,380.9 C341.0,381.4 342.1,382.0 343.7,382.0 C345.4,382.0 348.0,381.6 349.8,380.9 C351.6,380.2 353.0,378.2 354.4,377.9 C355.8,377.6 356.9,379.4 358.2,379.0 C359.5,378.5 360.6,376.3 362.0,375.4 C363.4,374.6 365.2,374.7 366.6,373.9 C368.0,373.1 369.1,371.9 370.4,370.6 C371.7,369.3 373.2,367.5 374.2,366.0 C375.2,364.5 375.8,364.2 376.5,361.4 C377.2,358.6 377.9,354.8 378.5,349.2 C379.0,343.7 379.4,337.0 380.0,327.9 C380.5,318.8 381.3,295.4 381.8,294.4 C382.4,293.4 382.8,313.2 383.3,321.8 C383.8,330.4 384.3,339.6 384.9,346.2 C385.4,352.8 385.9,357.2 386.7,361.4 C387.4,365.6 388.5,368.8 389.4,371.3 C390.4,373.8 391.5,375.5 392.5,376.4 C393.5,377.3 394.5,376.9 395.5,376.7 C396.5,376.5 397.6,375.0 398.6,375.1 C399.6,375.3 400.6,376.9 401.6,377.4 C402.7,377.9 403.8,378.6 405.0,378.2 C406.1,377.8 407.5,374.8 408.5,374.8 C409.4,374.9 409.9,377.3 410.8,378.5 C411.7,379.7 412.7,381.2 413.8,382.0 C415.0,382.8 416.3,383.7 417.6,383.5 C418.9,383.4 420.2,382.3 421.4,381.2 C422.7,380.2 424.2,379.7 425.2,377.4 C426.3,375.1 426.9,372.2 427.5,367.5 C428.2,362.8 428.5,357.1 429.0,349.2 C429.6,341.4 430.1,329.2 430.9,320.3 C431.6,311.4 432.9,298.2 433.6,295.9 C434.4,293.6 434.8,302.5 435.4,306.6 C436.1,310.6 436.7,317.7 437.4,320.3 C438.1,322.8 439.0,320.5 439.7,321.8 C440.5,323.1 441.2,324.9 442.0,327.9 C442.8,331.0 443.4,335.3 444.3,340.1 C445.2,344.9 446.3,351.8 447.3,356.9 C448.3,361.9 449.4,367.0 450.4,370.6 C451.4,374.1 452.2,376.1 453.4,378.2 C454.7,380.3 456.2,381.8 458.0,383.1 C459.8,384.3 461.8,385.2 464.1,385.8 C466.4,386.4 469.7,386.5 471.7,386.6 C473.7,386.6 474.5,386.1 476.3,386.3 C478.1,386.4 480.1,387.3 482.4,387.6 C484.7,387.9 487.5,388.1 490.0,388.1 C492.5,388.0 495.6,387.8 497.6,387.3 C499.7,386.8 500.9,386.1 502.2,385.0 C503.5,384.0 504.1,382.9 505.2,381.2 C506.4,379.6 507.8,377.3 509.0,375.1 C510.3,373.0 511.7,368.9 512.9,368.3 C514.1,367.7 515.1,371.8 516.2,371.3 C517.4,370.8 518.8,364.9 519.7,365.2 C520.6,365.6 520.9,370.2 521.7,373.6 C522.5,377.0 523.2,383.4 524.3,385.8 C525.4,388.2 524.9,387.6 528.1,388.1 C531.3,388.6 537.0,388.7 543.3,388.9 C549.6,389.1 562.1,389.2 565.9,389.3" fill="none" stroke="#000" stroke-width="1.6" stroke-linejoin="round"/>
<path d="M577.9,389.3 C579.2,389.2 582.8,388.9 585.7,388.7 C588.5,388.4 591.7,388.2 595.0,388.0 C598.3,387.8 603.0,387.8 605.7,387.3 C608.3,386.8 609.4,385.7 611.0,384.9 C612.6,384.2 613.9,383.2 615.0,382.7 C616.1,382.2 616.7,381.8 617.7,382.0 C618.7,382.2 619.7,383.2 621.0,384.0 C622.3,384.8 623.8,386.1 625.7,386.7 C627.6,387.3 630.1,387.5 632.3,387.6 C634.6,387.7 636.8,387.7 639.0,387.3 C641.2,387.0 643.9,386.2 645.7,385.3 C647.4,384.4 648.6,383.4 649.7,382.0 C650.8,380.6 651.6,379.1 652.3,376.7 C653.1,374.2 653.8,371.8 654.3,367.3 C654.9,362.9 655.3,357.3 655.7,350.0 C656.0,342.7 656.3,332.2 656.6,323.3 C656.9,314.4 657.3,302.2 657.7,296.7 C658.1,291.1 658.6,289.3 659.0,290.0 C659.4,290.7 659.8,297.1 660.3,300.7 C660.9,304.2 661.7,308.2 662.3,311.3 C663.0,314.4 663.5,317.4 664.1,319.3 C664.6,321.3 665.1,323.5 665.7,323.1 C666.2,322.6 666.7,321.1 667.3,316.7 C667.8,312.3 668.5,303.3 669.0,296.7 C669.5,290.0 669.7,281.0 670.1,276.7 C670.4,272.3 670.6,270.0 671.0,270.7 C671.4,271.3 671.9,275.7 672.3,280.7 C672.8,285.7 673.1,295.6 673.7,300.7 C674.2,305.8 675.0,308.4 675.7,311.3 C676.3,314.2 677.0,315.6 677.7,318.0 C678.3,320.4 679.0,323.4 679.7,326.0 C680.3,328.6 681.1,331.8 681.7,333.3 C682.3,334.8 682.5,334.7 683.3,335.1 C684.0,335.4 685.5,335.1 686.3,335.3 C687.2,335.6 687.7,335.5 688.3,336.4 C688.9,337.3 689.4,338.4 689.9,340.7 C690.5,342.9 691.0,346.7 691.7,350.0 C692.3,353.3 693.0,358.4 693.7,360.7 C694.3,362.9 695.0,362.9 695.7,363.3 C696.3,363.8 696.9,362.8 697.7,363.3 C698.4,363.9 699.3,365.6 700.3,366.7 C701.3,367.8 702.6,368.8 703.7,370.0 C704.8,371.2 706.0,372.9 707.0,374.0 C708.0,375.1 708.6,376.0 709.7,376.7 C710.8,377.4 712.3,377.6 713.7,378.3 C715.0,379.0 716.6,380.6 717.7,380.9 C718.8,381.2 719.6,380.3 720.3,380.0 C721.1,379.7 721.6,379.1 722.3,379.3 C723.1,379.6 724.0,380.4 725.0,381.3 C726.0,382.3 727.1,383.9 728.3,384.9 C729.6,385.9 730.8,386.7 732.3,387.3 C733.9,388.0 735.4,388.3 737.7,388.7 C739.9,389.0 742.8,389.2 745.7,389.3 C748.6,389.4 751.9,389.3 755.0,389.3 C758.1,389.3 760.6,389.4 764.3,389.3 C768.1,389.2 775.4,388.8 777.7,388.7" fill="none" stroke="#000" stroke-width="1.6" stroke-linejoin="round"/>
<path d="M93.4,447.7 L93.7,446.6 L94.2,445.2 L94.8,443.5 L95.3,442.0 L96.3,440.8 L97.3,439.1 L98.0,439.9 L98.7,441.5 L99.4,442.5 L100.1,444.2 L100.8,446.2 L101.5,447.3 L102.2,447.8 L103.7,447.2 L105.2,446.2 L106.0,446.3 L106.7,448.1 L107.4,448.9 L108.3,450.4 L109.3,451.4 L110.5,451.4 L111.7,452.1 L112.9,452.7 L114.4,452.3 L115.9,451.8 L117.4,451.9 L118.6,451.3 L119.7,449.9 L120.9,448.7 L122.0,448.3 L123.1,448.1 L124.3,448.5 L125.4,448.8 L126.6,449.0 L128.1,449.8 L129.6,449.2 L131.1,449.9 L132.7,450.7 L134.2,450.8 L135.7,451.0 L136.8,450.8 L138.0,451.4 L139.1,451.9 L140.3,452.5 L141.6,452.7 L142.9,453.6 L144.3,454.4 L145.6,453.4 L147.0,453.7 L148.4,453.2 L149.7,451.8 L151.0,451.3 L152.3,451.4 L153.5,449.4 L154.8,449.4 L155.7,447.8 L156.6,447.5 L157.6,446.5 L158.6,444.7 L159.7,443.2 L160.8,443.1 L162.0,442.3 L163.1,442.0 L164.7,441.1 L166.2,440.9 L167.7,441.1 L169.3,440.8 L170.9,441.0 L172.3,442.3 L173.4,442.0 L174.3,443.7 L175.3,444.6 L176.2,446.0 L177.1,446.2 L178.1,448.6 L179.1,448.8 L179.9,449.4 L180.8,451.0 L181.6,452.4 L182.3,453.0 L183.0,454.5 L184.0,455.7 L185.2,456.4 L186.3,455.4 L187.4,454.4 L189.0,453.4 L190.1,453.9 L191.4,453.9 L192.7,453.1 L194.1,452.4 L195.4,453.0 L196.7,452.2 L198.0,451.6 L199.2,451.3 L200.4,452.0 L201.6,451.9 L202.8,451.5 L204.0,451.1 L205.2,451.2 L206.4,450.7 L207.6,451.7 L208.9,450.6 L210.1,450.7 L211.4,450.7 L212.7,450.3 L213.9,449.3 L215.0,448.5 L216.1,448.1 L217.0,446.4 L217.9,446.6 L218.8,445.3 L220.0,445.9 L221.2,445.5 L222.6,446.1 L224.0,446.3 L225.5,447.0 L227.1,446.8 L228.3,446.4 L229.5,447.2 L230.8,446.1 L232.1,445.6 L233.2,445.2 L234.5,444.8 L235.6,443.9 L236.7,443.4 L237.8,442.7 L239.0,441.3 L240.1,441.2 L241.3,440.3 L242.4,438.7 L243.7,440.2 L245.0,441.2 L246.2,442.1 L247.0,442.0 L247.6,444.2 L248.3,444.9 L249.2,444.7 L250.4,445.2 L251.8,446.9 L253.2,446.5 L254.6,445.9 L255.8,445.4 L256.9,445.1 L258.0,444.7 L259.1,445.1 L260.3,444.2 L261.5,443.6 L262.6,444.3 L263.7,443.6 L264.8,442.0 L265.8,442.2 L266.7,440.7 L267.5,439.8 L268.1,438.5 L268.5,437.6 L269.0,436.2 L269.4,435.0 L269.8,432.8 L270.4,432.1 L270.9,430.4 L271.5,429.5 L272.1,428.3 L273.4,429.2 L274.7,430.3 L275.1,430.8 L275.5,432.0 L275.8,433.2 L276.2,435.1 L276.7,435.7 L277.2,437.5 L277.8,438.2 L278.4,439.8 L279.0,440.9 L279.7,441.7 L281.0,443.1 L282.3,442.3 L283.5,443.7 L285.1,442.7 L286.6,441.8 L287.4,441.0 L288.1,440.0 L288.9,438.2 L289.6,437.7 L290.4,439.1 L291.2,439.1 L291.9,441.1 L293.0,442.6 L294.2,441.7 L294.5,441.9 L294.9,441.0 L295.3,440.2 L295.7,437.9 L296.1,437.5 L296.5,435.5 L296.9,434.2 L297.2,433.9 L298.0,431.2 L298.8,431.3 L299.5,430.4 L300.3,429.2 L301.3,429.1 L302.4,427.6 L303.3,427.2 L305.2,426.5 L306.0,427.8 L306.9,428.4 L307.9,430.1 L308.8,431.0 L309.7,432.0 L310.7,433.2 L311.7,433.0 L313.0,434.3 L314.3,434.0 L315.5,434.1 L316.8,432.9 L318.1,432.1 L319.3,432.2 L320.9,432.1 L322.4,433.7 L323.0,434.0 L323.6,435.2 L324.3,436.5 L324.9,438.3 L325.4,439.6 L326.1,441.3 L326.6,441.6 L327.2,443.9 L327.7,445.3 L328.7,446.0 L330.0,446.3 L330.9,447.6 L332.0,448.2 L333.2,449.5 L334.6,451.4 L335.7,451.5 L337.0,452.0 L338.4,452.6 L339.8,453.1 L341.1,452.9 L342.2,453.0 L343.5,452.6 L344.7,451.9 L345.7,451.0 L346.8,450.6 L348.2,450.1 L349.7,451.4 L351.3,451.5 L352.5,452.0 L353.7,451.0 L354.9,451.1 L356.2,450.8 L357.4,451.7 L358.7,451.6 L359.9,451.0 L361.2,450.1 L362.4,450.4 L363.5,449.7 L364.5,448.6 L365.4,447.2 L366.2,446.2 L367.1,445.4 L368.1,444.4 L369.2,444.0 L370.4,443.9 L371.6,443.9 L372.8,442.3 L374.2,442.8 L375.4,441.9 L376.7,442.1 L378.1,443.2 L379.4,442.8 L380.7,443.3 L381.8,442.3 L383.2,441.0 L384.3,440.6 L385.3,439.8 L386.4,439.3 L387.5,438.4 L388.6,436.6 L389.7,435.6 L391.0,434.2 L392.1,434.4 L393.4,433.1 L394.6,432.5 L395.9,431.7 L397.0,431.0 L398.3,431.1 L399.5,429.2 L400.6,429.5 L401.6,427.3 L402.7,427.5 L403.7,425.7 L404.7,425.2 L405.6,426.8 L406.6,427.1 L407.7,429.1 L408.5,429.1 L409.4,429.8 L410.3,431.9 L411.2,432.8 L412.3,433.8 L413.4,434.3 L414.6,434.0 L415.9,435.4 L417.1,436.1 L418.4,436.3 L419.6,437.5 L420.8,436.9 L422.0,438.4 L423.3,438.5 L424.5,437.9 L425.7,438.3 L426.9,439.8 L428.1,440.5 L429.4,439.8 L430.6,440.6 L431.8,441.7 L433.0,441.4 L434.3,442.9 L435.5,442.8 L436.7,442.5 L438.1,443.3 L439.5,443.7 L440.8,443.7 L442.0,444.5 L442.9,444.6 L443.6,446.7 L444.3,447.3 L445.0,448.7 L446.2,449.9 L447.4,450.5 L448.9,451.1 L449.9,451.8 L451.1,451.9 L452.4,451.5 L453.7,451.0 L455.0,450.5 L456.2,450.2 L457.5,451.8 L458.8,451.6 L460.0,452.0 L461.0,451.3 L462.6,451.6 L464.1,452.0 L465.1,452.0 L466.4,451.9 L467.7,451.8 L469.0,452.3 L470.2,452.9 L471.5,451.7 L472.6,451.5 L473.7,450.5 L474.8,449.9 L475.6,448.6 L476.4,446.3 L477.1,444.3 L477.9,443.5 L478.6,443.1 L479.4,443.7 L480.1,445.2 L480.8,446.6 L481.6,446.3 L482.8,448.0 L484.1,448.0 L485.4,447.9 L486.5,446.8 L487.6,445.3 L488.7,445.3 L490.0,444.7 L491.1,444.6 L492.4,445.4 L493.6,445.1 L494.9,445.2 L496.1,446.3 L497.5,446.9 L498.9,446.1 L500.2,447.1 L501.4,447.6 L502.7,447.4 L503.9,449.0 L505.2,450.0 L506.3,450.1 L507.6,450.2 L508.9,450.6 L510.2,451.7 L511.3,452.0 L512.9,451.8 L514.3,451.3 L515.9,452.0 L517.0,451.5 L518.2,449.9 L519.5,449.6 L520.8,449.2 L522.0,448.3 L523.2,447.0 L524.4,446.2 L525.5,445.5 L526.8,444.2 L528.1,443.5 L529.3,442.9 L530.6,443.1 L532.0,442.0 L533.3,441.8 L534.6,441.2 L535.7,441.2 L537.0,440.8 L538.1,441.2 L539.1,443.3 L540.3,443.0 L541.4,443.1 L542.7,444.5 L544.0,445.2 L545.2,444.7 L546.4,445.6 L548.0,445.1 L549.5,444.8 L551.0,443.5 L552.5,443.3 L554.0,444.5 L555.5,444.5 L556.6,444.4 L557.8,445.3 L558.9,445.7 L560.1,447.4 L561.2,447.8 L562.4,449.6 L563.6,450.4 L564.7,451.4 L565.4,452.3" fill="none" stroke="#000" stroke-width="1.6" stroke-linejoin="round"/>
<path d="M578.3,458.2 L579.1,457.8 L580.3,457.8 L581.6,457.5 L583.0,457.2 L584.4,457.0 L585.7,457.4 L587.0,457.9 L588.3,457.9 L589.6,458.8 L590.9,459.1 L592.3,458.5 L593.5,459.0 L594.9,458.6 L596.3,458.1 L597.6,458.6 L599.0,457.7 L600.1,457.8 L601.0,457.9 L602.1,459.2 L603.0,459.9 L603.9,459.4 L605.1,459.1 L606.5,458.3 L607.9,458.4 L609.2,458.0 L610.3,457.1 L611.6,457.0 L612.7,457.7 L613.8,458.3 L615.0,459.3 L616.2,459.7 L617.5,460.1 L618.9,459.8 L620.3,460.8 L621.7,460.9 L623.0,460.7 L624.3,460.7 L625.7,459.4 L627.0,459.1 L628.3,459.3 L629.6,459.2 L630.9,458.7 L632.2,458.2 L633.6,458.3 L635.0,458.2 L636.3,457.5 L637.6,457.5 L639.0,457.3 L640.4,457.1 L641.7,457.3 L643.0,457.0 L644.5,457.2 L645.9,457.4 L647.3,458.1 L648.5,457.9 L649.7,458.9 L651.2,458.9 L652.5,459.4 L653.7,461.1 L654.6,461.2 L655.4,462.8 L656.2,463.8 L657.0,465.0 L657.6,465.4 L658.1,466.7 L658.6,467.6 L659.1,469.6 L659.7,471.0 L660.0,471.8 L660.3,472.8 L660.6,473.8 L661.0,475.5 L661.3,476.4 L661.6,477.8 L662.0,478.6 L662.3,479.7 L662.8,480.8 L663.3,482.5 L663.8,483.5 L664.2,484.2 L664.7,486.0 L665.2,486.6 L665.7,487.9 L666.0,488.8 L666.4,490.0 L666.7,491.7 L667.0,492.4 L667.4,493.5 L667.7,495.0 L668.0,496.0 L668.3,497.7 L668.7,498.2 L669.0,500.1 L669.3,500.4 L669.7,502.4 L670.0,503.3 L670.3,504.1 L670.7,505.5 L671.0,506.5 L671.3,507.6 L671.7,508.7 L672.0,510.0 L672.4,511.8 L672.7,512.9 L673.0,514.0 L673.4,514.5 L673.7,515.8 L674.0,517.7 L674.3,518.3 L674.6,520.3 L674.9,521.3 L675.2,523.2 L675.4,523.7 L675.7,525.6 L675.9,526.6 L676.0,527.9 L676.1,529.2 L676.2,531.2 L676.4,532.0 L676.6,532.4 L677.6,532.4 L679.0,531.7 L680.7,530.6 L682.3,530.7 L683.7,531.7 L683.9,532.6 L684.2,534.2 L684.5,535.5 L684.8,536.5 L685.1,537.9 L685.4,539.4 L685.7,541.4 L685.9,542.4 L686.1,543.3 L686.3,544.4 L686.5,546.0 L686.7,547.3 L686.9,548.6 L687.1,549.6 L687.3,550.5 L687.5,551.7 L687.7,553.5 L687.9,554.4 L688.0,556.0 L688.2,556.6 L688.4,558.6 L688.6,559.5 L688.8,561.2 L689.0,562.5 L689.2,563.4 L689.3,564.2 L689.5,566.0 L689.7,566.6 L689.9,568.7 L690.2,569.7 L690.4,571.1 L690.6,572.9 L690.8,573.3 L691.0,573.7 L691.6,573.5 L692.3,570.8 L692.5,569.4 L692.7,568.9 L693.0,567.7 L693.2,566.5 L693.5,564.9 L693.7,564.1 L694.0,562.8 L694.2,561.5 L694.5,559.7 L694.8,558.7 L695.0,557.2 L695.3,556.3 L695.5,554.5 L695.8,554.1 L696.0,553.0 L696.3,551.4 L696.6,550.3 L696.8,549.1 L697.1,547.9 L697.4,546.2 L697.7,545.8 L697.9,544.0 L698.2,542.8 L698.5,541.5 L698.7,540.5 L699.0,539.8 L699.3,537.8 L699.6,536.6 L699.9,535.9 L700.2,534.2 L700.4,532.8 L700.7,532.0 L701.0,530.7 L701.3,529.5 L701.5,528.5 L701.8,526.7 L702.0,526.2 L702.3,524.9 L702.5,523.0 L702.8,521.9 L703.0,521.0 L703.3,519.7 L703.5,518.3 L703.8,516.9 L704.1,515.9 L704.3,514.3 L704.6,513.5 L704.9,512.6 L705.2,510.7 L705.4,509.8 L705.7,508.7 L706.0,507.0 L706.3,506.3 L706.6,505.1 L706.9,503.4 L707.2,502.2 L707.5,501.3 L707.8,499.8 L708.1,498.4 L708.3,497.7 L708.6,496.3 L708.9,494.6 L709.1,493.2 L709.4,492.0 L709.7,490.8 L709.9,490.1 L710.2,488.6 L710.4,487.5 L710.7,486.2 L710.9,485.0 L711.2,483.2 L711.4,482.4 L711.7,481.7 L712.0,480.3 L712.3,478.3 L712.7,477.2 L713.0,476.0 L713.4,474.5 L713.7,473.5 L714.0,471.9 L714.4,471.2 L714.7,470.2 L715.0,468.9 L715.7,467.2 L716.3,466.7 L717.0,465.4 L717.7,464.4 L718.3,463.0 L719.0,461.9 L719.7,460.8 L720.4,459.8 L721.0,458.2 L723.0,458.1 L724.2,456.8 L725.4,456.4 L726.5,456.7 L727.7,458.0 L728.7,459.3 L729.9,460.0 L731.0,460.4 L732.3,461.6 L733.7,461.9 L734.7,462.0 L735.8,460.7 L737.0,460.1 L738.0,460.1 L739.1,459.3 L740.3,459.4 L741.7,459.5 L742.9,458.8 L744.2,458.4 L745.6,458.3 L747.0,458.1 L748.3,457.7 L749.6,457.6 L750.9,457.7 L752.2,458.0 L753.6,458.2 L755.0,458.2 L756.3,458.2 L757.9,458.1 L759.4,458.6 L760.9,458.9 L762.1,458.7 L763.0,458.7" fill="none" stroke="#000" stroke-width="1.6" stroke-linejoin="round"/>
<path d="M93.4,609.2 L93.9,609.4 L94.6,611.4 L95.3,612.7 L95.7,614.0 L96.0,615.6 L96.4,616.9 L96.7,618.2 L97.0,619.1 L97.3,619.5 L97.6,619.6 L97.9,618.5 L98.2,617.3 L98.5,614.7 L98.8,613.3 L99.0,613.0 L99.2,611.0 L99.3,610.1 L99.5,608.7 L99.7,607.0 L99.9,606.6 L100.1,604.3 L100.3,603.7 L100.5,601.8 L100.7,600.7 L101.4,599.7 L102.2,597.9 L103.0,596.9 L103.7,598.2 L104.4,600.0 L105.2,600.9 L105.7,599.4 L106.1,598.5 L106.6,598.2 L107.1,596.4 L107.5,594.3 L108.0,593.5 L108.8,592.0 L109.6,591.4 L110.6,590.8 L111.8,591.5 L113.1,592.4 L114.4,593.0 L115.7,594.0 L117.0,594.8 L118.2,595.6 L119.0,596.0 L119.7,597.4 L120.5,598.6 L121.0,600.0 L121.5,600.4 L122.1,603.0 L122.6,603.0 L123.2,604.8 L124.3,604.2 L125.4,602.8 L126.6,602.0 L127.4,600.5 L128.3,599.2 L129.2,598.6 L130.0,597.8 L130.8,596.9 L132.0,596.8 L133.1,598.0 L134.2,599.0 L135.4,600.1 L136.7,600.3 L138.0,601.2 L139.1,602.0 L140.3,602.5 L141.5,603.0 L142.6,604.0 L143.9,604.2 L145.1,603.4 L146.4,603.1 L147.9,602.5 L149.5,602.5 L151.0,602.4 L152.5,603.6 L154.0,604.8 L155.0,605.0 L156.2,607.2 L157.4,607.3 L158.6,608.7 L160.2,608.7 L161.7,608.3 L163.1,607.0 L164.8,608.1 L166.2,609.2 L167.1,607.4 L168.1,606.4 L169.2,606.0 L170.2,605.0 L171.3,604.6 L172.5,603.4 L173.8,602.1 L175.0,602.1 L176.2,600.6 L177.5,599.9 L178.8,599.6 L179.9,598.9 L181.2,598.9 L182.3,599.6 L183.4,599.8 L184.5,601.2 L185.9,601.5 L187.2,602.0 L188.3,602.3 L189.1,603.9 L189.8,605.2 L190.6,606.0 L191.5,605.4 L192.5,604.5 L193.6,603.5 L195.0,602.3 L196.6,602.0 L198.2,602.3 L199.3,603.1 L200.5,602.8 L201.6,603.7 L202.8,604.8 L203.9,604.6 L205.1,605.6 L206.3,607.3 L207.3,607.9 L208.5,608.4 L209.4,608.8 L210.4,611.0 L211.1,611.7 L211.9,612.9 L212.7,614.3 L213.4,615.6 L213.9,616.0 L214.4,616.9 L214.9,618.4 L215.4,620.1 L215.9,621.4 L216.5,622.2 L217.1,623.6 L217.7,625.6 L218.4,627.0 L219.0,628.0 L219.7,629.8 L220.3,629.7 L220.9,628.6 L221.6,628.1 L222.2,627.2 L222.7,625.1 L223.3,624.5 L224.1,622.4 L224.9,621.8 L225.7,621.6 L226.4,620.5 L227.6,619.2 L228.7,618.0 L229.4,619.2 L230.1,620.6 L231.0,621.6 L231.9,623.2 L233.0,624.1 L234.0,625.6 L235.5,626.0 L237.0,626.4 L238.3,626.2 L239.6,626.3 L240.9,626.8 L241.7,625.4 L242.4,624.6 L243.2,623.6 L243.9,622.7 L244.3,622.2 L244.7,620.9 L245.0,620.0 L245.4,617.8 L245.8,616.4 L246.2,616.3 L246.6,614.4 L247.0,613.8 L247.4,612.0 L247.8,610.4 L248.2,609.2 L248.6,607.7 L249.1,607.6 L249.5,606.1 L250.0,604.9 L251.2,603.8 L252.5,603.1 L253.8,602.2 L255.1,603.2 L256.3,602.8 L257.6,603.5 L258.9,602.7 L260.3,603.1 L261.4,603.3 L261.9,603.8 L262.3,606.1 L262.7,607.2 L263.0,607.8 L263.4,609.9 L263.7,610.9 L264.2,611.5 L264.6,613.1 L265.0,614.9 L265.5,615.4 L266.0,617.2 L266.6,617.2 L267.2,618.3 L267.8,619.7 L268.5,620.1 L269.0,621.6 L269.3,623.4 L269.6,623.9 L269.8,625.4 L270.0,625.8 L270.3,627.0 L270.5,628.6 L270.8,629.8 L271.0,632.4 L271.3,633.0 L271.5,634.5 L271.8,635.1 L272.0,637.1 L272.2,638.4 L272.5,640.0 L272.7,641.1 L273.0,642.7 L273.2,645.3 L273.5,646.1 L273.7,647.3 L274.0,648.4 L274.2,649.6 L274.4,650.4 L274.7,650.7 L274.8,651.8 L275.1,651.3 L275.3,650.5 L275.4,650.4 L275.6,648.3 L275.8,647.0 L275.9,646.2 L276.0,643.4 L276.2,642.2 L276.3,641.1 L276.5,639.6 L276.7,637.4 L276.9,636.2 L277.2,635.3 L277.5,633.4 L277.8,632.9 L278.0,630.6 L278.3,630.5 L278.6,628.8 L279.0,627.6 L280.3,626.1 L281.7,625.5 L282.3,626.9 L283.0,627.2 L283.6,629.4 L284.3,630.4 L284.8,631.2 L285.3,632.2 L285.8,633.9 L286.4,634.7 L286.9,637.0 L287.3,637.4 L287.7,639.3 L288.0,640.8 L288.4,642.0 L288.7,644.3 L289.0,645.1 L289.3,646.6 L289.6,647.1 L290.4,646.9 L291.2,645.8 L291.9,643.4 L292.2,642.5 L292.5,642.0 L292.8,639.6 L293.1,638.5 L293.3,636.2 L293.6,635.7 L293.9,634.7 L294.8,635.5 L295.7,637.6 L296.2,638.6 L296.8,640.5 L297.4,641.8 L298.0,642.7 L299.5,644.6 L301.0,643.7 L301.5,643.1 L302.0,642.6 L302.4,641.0 L302.8,639.7 L303.3,638.4 L303.9,636.2 L304.5,635.1 L305.1,633.5 L305.8,633.4 L306.4,632.8 L307.9,632.6 L309.4,634.0 L310.2,635.0 L311.0,635.9 L311.7,636.3 L312.5,638.4 L313.0,638.7 L313.5,640.2 L314.0,640.8 L314.5,642.1 L315.0,644.6 L315.5,645.9 L315.9,646.9 L316.2,647.1 L316.6,648.4 L316.9,649.8 L317.3,651.2 L317.6,652.6 L317.9,653.9 L318.3,654.5 L318.6,655.9 L319.1,658.2 L319.5,659.3 L320.0,661.7 L320.4,662.3 L320.9,662.6 L321.1,661.5 L321.4,661.0 L321.6,660.3 L321.9,658.6 L322.1,656.7 L322.4,656.4 L322.6,654.8 L322.9,652.7 L323.1,651.0 L323.4,651.0 L323.6,649.4 L323.8,647.4 L324.1,646.5 L324.3,645.1 L324.5,644.8 L324.7,642.7 L325.0,642.5 L325.2,641.0 L325.4,638.8 L325.7,638.4 L325.9,636.7 L326.1,635.9 L326.3,634.6 L326.6,632.6 L326.8,631.0 L327.0,631.0 L327.3,629.1 L327.5,628.8 L327.7,627.5 L328.3,625.9 L328.8,625.1 L329.4,624.0 L330.0,622.6 L330.5,621.0 L330.9,620.9 L331.4,619.4 L331.9,618.3 L332.5,617.7 L333.0,615.3 L333.5,615.0 L334.0,612.8 L334.5,612.4 L335.1,611.2 L335.6,609.2 L336.2,608.5 L336.9,608.1 L337.9,606.5 L339.0,605.4 L340.1,604.2 L341.2,603.3 L342.2,603.4 L343.6,603.5 L344.9,603.7 L346.0,604.9 L346.7,605.9 L347.2,608.5 L347.8,610.0 L348.3,610.1 L348.8,609.6 L349.3,608.7 L349.9,607.0 L350.6,606.5 L351.7,604.6 L353.0,603.6 L354.4,604.2 L355.5,603.5 L356.6,604.9 L357.8,605.5 L359.0,607.1 L360.1,607.6 L361.3,608.8 L362.4,608.9 L363.5,610.7 L364.3,611.6 L365.1,612.4 L365.8,614.0 L366.6,615.2 L367.3,615.3 L368.1,616.7 L368.9,618.2 L369.7,619.2 L370.4,620.1 L371.1,621.1 L372.7,621.1 L374.2,620.7 L375.1,619.5 L376.1,617.9 L377.1,617.1 L378.0,616.5 L379.6,615.6 L381.0,615.3 L382.0,615.9 L383.0,616.8 L384.1,619.5 L384.8,620.1 L385.5,620.2 L386.3,622.2 L387.1,623.7 L387.9,624.3 L388.6,624.6 L389.4,626.1 L390.2,627.1 L391.0,627.7 L391.7,629.3 L392.5,629.6 L393.2,632.0 L393.8,632.7 L394.5,633.8 L395.1,635.3 L395.7,636.1 L396.3,636.8 L396.8,637.9 L397.2,638.9 L397.7,639.8 L398.1,642.1 L398.5,643.4 L398.9,643.9 L399.3,645.1 L399.6,646.8 L399.9,648.2 L400.2,649.5 L400.4,649.7 L400.6,651.7 L400.9,653.0 L401.1,654.1 L401.4,654.8 L401.6,655.7 L401.9,658.1 L402.2,659.0 L402.5,660.7 L402.8,662.6 L403.0,663.8 L403.3,665.7 L403.6,665.7 L403.9,665.9 L404.3,666.5 L404.6,665.7 L405.0,664.6 L405.4,662.8 L405.8,661.3 L406.2,659.9 L406.5,658.1 L406.9,657.0 L407.2,655.2 L407.6,654.2 L408.0,653.3 L408.4,651.5 L408.8,651.3 L409.2,649.6 L410.2,648.7 L411.1,648.6 L412.1,646.6 L413.0,645.6 L413.8,645.1 L414.6,643.6 L415.3,643.2 L416.1,641.0 L417.0,641.0 L418.0,639.7 L418.9,638.4 L419.9,637.0 L421.2,636.4 L422.4,636.9 L423.7,636.4 L424.7,635.7 L425.7,634.9 L426.6,634.2 L427.5,633.6 L428.3,632.8 L429.0,631.7 L429.8,629.5 L430.6,628.5 L431.5,627.3 L432.5,626.0 L433.5,624.5 L434.4,623.8 L435.0,624.0 L435.6,625.4 L436.1,627.1 L436.7,629.4 L437.0,630.4 L437.4,631.7 L437.8,633.2 L438.2,634.7 L438.6,635.5 L439.0,636.8 L439.4,636.5 L441.1,637.7 L442.8,636.2 L443.4,635.0 L444.0,634.4 L444.6,633.8 L445.2,631.8 L445.8,630.5 L446.1,629.0 L446.5,628.0 L446.8,627.5 L447.2,625.1 L447.5,624.0 L447.8,623.4 L448.2,621.8 L448.5,620.1 L448.9,619.8 L449.3,617.9 L449.8,616.8 L450.3,615.3 L450.8,614.2 L451.3,613.1 L451.9,611.9 L452.9,610.2 L454.1,609.2 L455.3,609.3 L456.5,608.3 L457.9,607.3 L459.4,608.5 L461.0,607.8 L462.2,607.7 L463.4,608.3 L464.7,608.0 L466.0,608.6 L467.1,609.0 L468.4,609.3 L469.6,610.9 L470.7,611.3 L471.7,612.8 L472.9,614.1 L473.9,614.4 L474.8,614.9 L475.2,613.7 L475.6,613.0 L475.9,612.1 L476.3,610.2 L476.6,609.3 L477.3,607.3 L478.1,605.7 L478.7,607.8 L479.4,609.0 L480.1,609.9 L480.6,612.3 L481.1,613.2 L481.6,614.3 L482.4,616.5 L483.4,616.5 L484.5,617.1 L485.8,616.5 L487.0,617.7 L488.1,617.2 L489.3,618.0 L490.5,618.8 L491.5,618.9 L492.7,620.8 L493.6,621.4 L494.6,622.1 L495.6,622.3 L496.5,620.9 L497.6,620.5 L498.5,619.1 L499.4,618.3 L500.4,616.8 L501.4,616.4 L502.6,615.8 L504.0,614.6 L505.3,615.3 L506.8,614.5 L507.9,614.9 L509.1,614.7 L510.4,614.7 L511.6,613.5 L512.9,613.7 L514.1,613.9 L515.3,613.8 L516.6,613.1 L517.8,611.8 L519.0,612.1 L520.3,610.9 L521.7,611.0 L523.0,610.8 L524.3,609.2 L525.4,609.6 L526.5,608.4 L527.5,606.9 L528.6,606.0 L529.6,605.8 L531.2,606.1 L532.7,605.9 L534.2,605.1 L535.3,604.2 L536.5,603.3 L537.6,603.3 L538.8,601.7 L540.3,601.7 L541.8,601.2 L543.3,601.9 L544.4,601.8 L545.5,602.0 L546.7,603.6 L547.9,603.7 L549.1,604.2 L550.3,604.6 L551.6,605.1 L552.9,604.1 L554.0,604.9 L555.3,605.3 L556.4,606.5 L557.5,607.8 L558.6,608.6 L559.6,608.6 L560.5,610.0 L561.5,612.1 L562.4,613.0 L563.7,613.9 L565.0,615.0 L565.9,615.3" fill="none" stroke="#000" stroke-width="1.6" stroke-linejoin="round"/>
<path d="M578.3,616.3 L579.1,616.8 L580.3,618.5 L581.7,619.4 L582.9,619.7 L584.2,620.8 L585.6,621.3 L587.0,622.4 L588.4,622.2 L589.8,621.5 L591.1,621.3 L592.3,621.2 L593.7,620.8 L595.0,620.4 L596.3,619.9 L597.6,619.8 L598.9,619.5 L600.3,620.2 L601.7,620.3 L602.9,620.4 L604.2,621.5 L605.5,622.6 L607.0,622.3 L608.2,622.5 L609.5,623.1 L610.9,622.8 L612.3,622.9 L613.7,623.1 L615.0,622.9 L616.4,623.1 L617.8,622.9 L619.1,623.2 L620.4,623.1 L621.7,622.2 L623.0,622.8 L624.5,623.2 L625.9,623.5 L627.2,623.6 L628.3,623.5 L629.8,623.1 L631.0,622.3 L632.3,621.8 L633.6,622.0 L634.9,621.9 L636.3,621.8 L637.7,621.5 L639.0,621.2 L640.4,621.6 L641.7,621.7 L643.0,621.7 L644.2,622.1 L645.4,622.2 L646.6,622.8 L647.7,623.2 L648.7,623.6 L649.7,624.7 L650.6,625.6 L651.7,627.1 L652.6,627.5 L653.5,628.4 L654.5,629.2 L655.4,630.0 L656.3,630.5 L657.8,629.9 L659.1,628.7 L660.3,629.3 L660.9,629.6 L661.5,630.8 L661.9,632.3 L662.4,633.6 L663.0,635.0 L663.4,636.0 L663.9,637.4 L664.4,638.6 L664.9,640.2 L665.4,641.2 L665.9,642.7 L666.3,643.2 L667.0,645.0 L667.7,645.8 L668.3,646.4 L669.0,647.4 L669.7,648.7 L670.5,650.2 L671.3,650.6 L672.1,651.9 L673.0,652.6 L673.9,654.3 L674.7,655.1 L675.6,656.7 L676.6,657.7 L677.7,656.9 L678.8,656.1 L680.0,654.7 L681.0,653.7 L681.7,652.9 L682.4,652.2 L683.0,650.6 L683.6,649.7 L684.3,648.4 L685.1,647.7 L685.9,646.8 L686.7,645.5 L687.5,644.0 L688.3,643.5 L689.3,642.7 L690.3,641.5 L691.3,640.2 L692.3,640.3 L693.7,639.9 L695.0,639.3 L696.3,638.7 L697.7,638.1 L699.0,637.6 L700.3,637.0 L701.3,636.2 L702.3,635.9 L703.3,634.6 L704.3,633.8 L705.1,633.4 L705.9,632.3 L706.7,631.0 L707.5,630.3 L708.3,629.2 L709.7,627.9 L711.0,627.5 L712.3,626.7 L713.6,626.8 L714.9,626.3 L716.3,626.3 L717.6,626.1 L718.9,625.6 L720.3,625.6 L721.7,624.9 L723.0,625.4 L724.3,624.7 L725.7,624.8 L727.0,623.6 L728.3,623.8 L729.7,623.5 L731.0,622.8 L732.3,622.3 L733.7,622.0 L735.0,621.6 L736.3,621.8 L737.7,621.0 L739.0,621.6 L740.3,621.3 L741.7,621.6 L743.0,621.8 L744.3,621.9 L745.7,622.1 L747.0,622.2 L748.3,622.1 L749.7,622.8 L751.0,622.6 L752.3,623.4 L753.7,623.8 L755.0,624.3 L756.4,624.3 L757.8,625.2 L759.0,625.8 L760.6,625.8 L762.0,626.1 L763.0,626.7" fill="none" stroke="#000" stroke-width="1.6" stroke-linejoin="round"/>
<path d="M93.4,800.6 C94.3,800.7 97.2,801.3 99.1,801.3 C101.1,801.3 103.7,800.4 105.2,800.6 C106.8,800.9 106.8,801.8 108.3,802.5 C109.8,803.2 112.3,804.6 114.4,804.8 C116.4,805.0 118.4,804.1 120.5,803.7 C122.5,803.3 124.5,802.6 126.6,802.5 C128.6,802.4 130.1,802.9 132.7,803.2 C135.2,803.5 138.8,804.3 141.8,804.3 C144.9,804.3 147.9,803.4 151.0,803.2 C154.0,803.1 157.0,803.4 160.1,803.2 C163.1,803.1 166.7,802.3 169.2,802.5 C171.8,802.7 172.8,804.1 175.3,804.3 C177.9,804.6 181.4,804.0 184.5,804.0 C187.5,804.0 191.1,804.4 193.6,804.3 C196.2,804.3 197.4,804.1 199.7,803.7 C202.0,803.3 205.6,802.8 207.3,802.2 C209.1,801.6 209.4,801.0 210.4,800.2 C211.4,799.4 211.9,798.3 213.4,797.6 C215.0,796.9 217.7,796.8 219.5,796.1 C221.3,795.4 222.6,794.4 224.1,793.3 C225.6,792.2 227.3,790.7 228.7,789.5 C230.1,788.4 231.3,786.3 232.5,786.5 C233.6,786.6 234.4,789.0 235.5,790.3 C236.7,791.6 238.1,793.0 239.3,794.1 C240.6,795.2 241.7,796.1 243.1,796.7 C244.5,797.3 246.3,798.3 247.7,797.9 C249.1,797.5 250.1,794.3 251.5,794.1 C252.9,793.8 254.8,796.2 256.1,796.4 C257.4,796.6 257.7,795.8 259.1,795.2 C260.5,794.5 263.1,792.9 264.5,792.6 C265.9,792.3 266.4,793.0 267.5,793.3 C268.7,793.7 270.1,794.9 271.3,794.9 C272.6,794.9 273.6,794.1 275.1,793.3 C276.7,792.5 278.8,791.0 280.5,790.0 C282.1,789.0 283.5,788.0 285.0,787.2 C286.6,786.5 288.3,786.2 289.6,785.4 C290.9,784.6 291.8,784.6 292.7,782.7 C293.6,780.7 294.3,776.3 295.0,773.5 C295.6,770.8 296.1,766.5 296.8,766.2 C297.4,766.0 298.1,771.3 298.8,772.0 C299.5,772.7 300.3,770.9 301.0,770.5 C301.8,770.0 302.6,769.1 303.3,769.3 C304.1,769.4 304.9,770.0 305.6,771.2 C306.4,772.5 307.0,774.5 307.9,776.6 C308.8,778.6 309.9,782.2 311.0,783.4 C312.0,784.7 313.0,784.6 314.0,784.2 C315.0,783.8 316.1,782.5 317.0,781.1 C318.0,779.8 319.0,776.0 319.8,776.3 C320.6,776.5 320.9,781.0 321.6,782.7 C322.3,784.4 323.0,785.6 323.9,786.5 C324.8,787.3 325.9,787.4 327.0,787.7 C328.0,788.0 328.7,787.4 330.0,788.5 C331.3,789.5 333.0,792.3 334.6,794.1 C336.1,795.9 337.7,798.0 339.1,799.1 C340.5,800.3 341.7,800.8 343.0,801.0 C344.2,801.1 345.1,800.8 346.8,800.2 C348.4,799.6 350.6,798.3 352.9,797.1 C355.1,796.0 357.9,794.7 360.5,793.3 C363.0,791.9 365.8,790.1 368.1,788.8 C370.4,787.4 372.4,786.7 374.2,785.4 C376.0,784.1 377.7,783.3 378.8,780.8 C379.8,778.3 380.0,773.7 380.6,770.5 C381.2,767.2 381.6,761.7 382.3,761.3 C382.9,761.0 383.7,765.9 384.6,768.2 C385.4,770.5 386.2,772.9 387.1,775.0 C388.1,777.2 389.0,779.4 390.2,780.8 C391.3,782.2 392.6,782.7 394.0,783.4 C395.4,784.1 397.2,784.4 398.6,785.0 C400.0,785.5 401.2,786.6 402.4,786.5 C403.5,786.4 404.4,785.6 405.4,784.5 C406.4,783.4 407.6,780.9 408.5,779.9 C409.4,779.0 410.0,778.5 410.8,778.9 C411.5,779.2 412.2,780.5 413.0,781.9 C413.9,783.3 415.0,785.9 416.1,787.2 C417.2,788.6 418.5,789.3 419.9,790.0 C421.3,790.6 423.2,791.4 424.5,791.0 C425.7,790.7 426.6,790.2 427.5,788.0 C428.4,785.8 429.1,782.8 429.8,778.1 C430.5,773.4 431.1,764.3 431.8,759.8 C432.5,755.3 433.2,751.4 433.9,751.0 C434.6,750.6 435.2,755.3 435.9,757.5 C436.6,759.8 437.1,763.0 437.9,764.4 C438.6,765.8 439.7,765.0 440.5,765.9 C441.3,766.8 442.0,767.8 442.8,769.7 C443.5,771.6 444.2,774.2 445.0,777.3 C445.9,780.5 447.1,785.4 448.1,788.8 C449.1,792.1 450.0,795.4 451.1,797.6 C452.3,799.8 453.3,800.7 455.0,801.7 C456.6,802.7 458.5,803.3 461.0,803.7 C463.6,804.1 466.6,803.9 470.2,804.0 C473.7,804.1 478.8,804.1 482.4,804.0 C485.9,803.9 489.0,803.6 491.5,803.2 C494.1,802.9 495.6,802.5 497.6,801.7 C499.7,801.0 501.9,799.5 503.7,798.7 C505.5,797.8 506.8,797.2 508.3,796.7 C509.8,796.2 511.6,796.2 512.9,795.6 C514.1,795.1 514.8,794.5 515.6,793.3 C516.4,792.2 516.8,790.0 517.4,788.8 C518.0,787.5 518.6,785.8 519.3,786.0 C519.9,786.3 520.5,788.1 521.2,790.3 C521.9,792.5 522.6,797.3 523.5,799.4 C524.4,801.5 525.0,802.0 526.6,802.8 C528.1,803.5 529.9,803.7 532.7,804.0 C535.5,804.3 537.8,804.2 543.3,804.3 C548.9,804.4 562.1,804.7 565.9,804.8" fill="none" stroke="#000" stroke-width="1.6" stroke-linejoin="round"/>
<path d="M577.9,804.7 C579.2,804.6 582.8,804.3 585.7,804.0 C588.5,803.7 591.4,803.5 595.0,803.1 C598.6,802.6 604.1,802.1 607.0,801.3 C609.9,800.5 610.6,799.2 612.3,798.3 C614.1,797.4 616.2,796.1 617.7,796.0 C619.1,795.9 619.7,797.0 621.0,797.7 C622.3,798.5 624.0,800.0 625.7,800.7 C627.3,801.3 629.0,801.6 631.0,801.7 C633.0,801.8 635.4,801.8 637.7,801.3 C639.9,800.9 642.3,800.2 644.3,799.1 C646.3,798.0 648.2,796.4 649.7,794.7 C651.1,792.9 652.1,791.2 653.0,788.7 C653.9,786.1 654.4,783.6 655.0,779.3 C655.6,775.1 655.9,770.4 656.3,763.3 C656.7,756.2 657.1,745.6 657.4,736.7 C657.7,727.8 657.9,716.4 658.3,710.0 C658.8,703.6 659.5,698.0 660.1,698.0 C660.6,698.0 661.1,706.4 661.7,710.0 C662.3,713.6 663.0,717.1 663.7,719.3 C664.3,721.6 665.1,724.0 665.7,723.3 C666.3,722.7 666.7,719.1 667.3,715.3 C667.8,711.6 668.5,705.1 669.0,700.7 C669.5,696.2 669.9,691.0 670.3,688.7 C670.8,686.3 671.1,686.7 671.7,686.7 C672.2,686.7 672.9,687.6 673.7,688.7 C674.4,689.8 675.6,691.8 676.3,693.3 C677.1,694.9 677.7,696.1 678.3,698.0 C679.0,699.9 679.6,702.6 680.3,704.7 C681.1,706.8 682.0,710.0 682.7,710.7 C683.5,711.3 684.2,709.5 685.0,708.7 C685.8,707.8 686.9,705.7 687.7,705.7 C688.4,705.7 689.0,705.7 689.7,708.7 C690.3,711.6 691.0,717.6 691.7,723.3 C692.3,729.1 693.0,738.2 693.7,743.3 C694.3,748.4 694.9,750.7 695.7,754.0 C696.4,757.3 697.4,760.2 698.3,763.3 C699.2,766.4 699.9,769.6 701.0,772.7 C702.1,775.8 703.6,779.1 705.0,782.0 C706.4,784.9 708.0,787.6 709.7,790.0 C711.3,792.4 713.2,794.8 715.0,796.7 C716.8,798.6 718.6,800.2 720.3,801.3 C722.1,802.4 723.2,802.9 725.7,803.3 C728.1,803.8 731.2,803.8 735.0,804.0 C738.8,804.2 743.9,804.7 748.3,804.7 C752.8,804.7 756.8,804.3 761.7,804.0 C766.6,803.7 775.0,803.2 777.7,803.1" fill="none" stroke="#000" stroke-width="1.6" stroke-linejoin="round"/>
<path d="M93.4,924.5 C94.3,924.8 97.2,925.8 99.1,926.5 C101.1,927.1 103.7,927.8 105.2,928.5 C106.8,929.1 106.3,929.7 108.3,930.3 C110.3,930.9 114.1,931.6 117.4,932.1 C120.7,932.7 125.0,933.1 128.1,933.6 C131.1,934.2 133.7,935.1 135.7,935.6 C137.7,936.1 138.3,936.6 140.3,936.7 C142.3,936.8 145.6,936.5 147.9,936.1 C150.2,935.6 152.0,934.9 154.0,934.1 C156.0,933.3 158.4,932.2 160.1,931.0 C161.7,929.9 162.8,929.4 163.9,927.2 C165.0,925.1 165.9,921.3 167.0,918.1 C168.0,914.9 169.1,908.4 170.0,907.9 C170.9,907.4 171.5,912.5 172.3,915.0 C173.0,917.6 173.7,921.7 174.6,923.4 C175.5,925.2 176.0,925.4 177.6,925.7 C179.3,926.0 182.6,925.3 184.5,925.3 C186.4,925.3 187.3,925.1 189.0,925.7 C190.8,926.3 193.4,928.2 195.1,928.8 C196.9,929.3 197.9,929.3 199.7,929.1 C201.5,928.9 203.8,928.1 205.8,927.5 C207.8,927.0 210.1,926.3 211.9,925.7 C213.7,925.1 215.1,924.5 216.5,923.9 C217.9,923.3 219.3,923.0 220.3,921.9 C221.3,920.8 221.7,918.8 222.6,917.3 C223.4,915.9 224.4,913.3 225.3,913.2 C226.2,913.1 227.1,915.4 227.9,916.6 C228.7,917.8 229.4,919.3 230.2,920.4 C231.0,921.4 231.5,922.7 232.5,923.0 C233.5,923.2 235.0,922.5 236.3,921.9 C237.6,921.3 238.8,920.7 240.1,919.3 C241.4,917.9 242.8,915.3 243.9,913.5 C245.0,911.7 245.9,909.0 247.0,908.6 C248.0,908.3 248.9,910.5 250.0,911.7 C251.1,912.9 252.5,915.0 253.8,915.8 C255.1,916.6 256.5,916.5 257.6,916.3 C258.8,916.0 259.7,915.2 260.7,914.3 C261.6,913.4 262.5,910.7 263.4,910.9 C264.3,911.2 265.1,914.0 266.0,915.8 C266.9,917.6 267.9,920.5 269.0,921.9 C270.2,923.4 271.5,923.9 272.9,924.5 C274.3,925.1 275.9,925.4 277.4,925.4 C279.0,925.4 280.3,924.6 282.0,924.5 C283.7,924.4 285.8,925.4 287.3,925.0 C288.9,924.5 290.0,922.9 291.1,921.9 C292.3,920.9 293.2,919.8 294.2,918.9 C295.2,917.9 296.1,916.5 297.2,916.3 C298.4,916.0 299.8,917.1 301.0,917.3 C302.3,917.6 303.7,917.8 304.9,917.8 C306.0,917.8 306.9,917.0 307.9,917.3 C308.9,917.6 309.9,918.5 311.0,919.6 C312.0,920.8 313.0,922.7 314.0,924.2 C315.0,925.7 316.0,927.8 317.0,928.5 C318.1,929.1 319.1,927.8 320.1,928.2 C321.1,928.5 321.5,929.9 323.1,930.3 C324.8,930.7 327.8,930.3 330.0,930.6 C332.2,930.9 334.1,931.7 336.1,932.0 C338.1,932.2 340.2,932.2 342.2,932.0 C344.2,931.7 346.3,930.9 348.3,930.4 C350.3,929.9 352.6,929.5 354.4,928.9 C356.2,928.3 357.6,928.0 359.0,926.6 C360.3,925.2 361.5,922.8 362.8,920.5 C364.0,918.2 365.4,915.4 366.6,912.9 C367.7,910.4 368.7,907.3 369.6,905.3 C370.5,903.3 371.1,901.0 371.9,901.0 C372.7,901.0 373.4,903.4 374.2,905.3 C375.0,907.1 375.6,910.4 376.5,912.1 C377.4,913.9 378.5,915.3 379.5,916.0 C380.5,916.6 381.6,915.7 382.6,916.3 C383.6,916.8 384.6,917.9 385.6,919.0 C386.6,920.1 387.5,921.6 388.7,922.8 C389.8,924.0 391.1,925.6 392.5,926.3 C393.9,927.0 395.5,926.6 397.0,926.9 C398.6,927.2 400.1,927.8 401.6,928.1 C403.1,928.5 404.4,928.9 406.2,928.9 C408.0,928.9 410.3,928.3 412.3,928.1 C414.3,928.0 416.5,928.5 418.4,928.1 C420.3,927.8 422.2,927.1 423.7,925.9 C425.2,924.6 426.4,922.4 427.5,920.5 C428.7,918.6 429.7,917.2 430.6,914.4 C431.5,911.6 432.0,907.0 432.9,903.8 C433.7,900.5 434.7,896.1 435.6,894.9 C436.5,893.8 437.3,895.9 438.2,896.9 C439.1,897.9 440.3,899.1 441.2,900.7 C442.1,902.4 442.8,904.5 443.5,906.8 C444.3,909.1 444.9,911.8 445.8,914.4 C446.7,917.1 447.8,920.5 448.9,922.8 C449.9,925.1 450.6,926.7 451.9,928.1 C453.2,929.5 455.0,930.3 456.5,931.2 C458.0,932.1 459.3,932.9 461.0,933.5 C462.8,934.0 465.4,934.2 467.1,934.5 C468.9,934.9 469.9,935.8 471.7,935.8 C473.5,935.8 475.5,934.6 477.8,934.5 C480.1,934.5 482.9,935.4 485.4,935.5 C488.0,935.5 490.8,935.3 493.0,935.0 C495.3,934.7 497.1,934.1 499.1,933.5 C501.2,932.8 503.7,932.2 505.2,931.2 C506.8,930.2 507.4,929.9 508.3,927.4 C509.2,924.8 509.8,921.7 510.6,916.0 C511.3,910.2 512.2,900.0 512.9,893.1 C513.5,886.2 514.1,879.3 514.7,874.8 C515.3,870.3 516.0,865.7 516.7,866.0 C517.3,866.2 518.0,870.8 518.6,876.3 C519.3,881.9 519.9,891.8 520.5,899.2 C521.1,906.6 521.5,915.3 522.3,920.5 C523.1,925.7 523.8,928.4 525.0,930.4 C526.3,932.5 528.1,932.5 529.6,932.7 C531.1,933.0 532.7,932.6 534.2,932.0 C535.7,931.3 537.2,929.8 538.8,928.9 C540.3,928.0 541.8,926.5 543.3,926.3 C544.9,926.1 546.5,927.0 547.9,927.8 C549.3,928.7 550.2,930.3 551.7,931.2 C553.2,932.1 554.7,932.9 557.0,933.5 C559.4,934.0 564.4,934.4 565.9,934.5" fill="none" stroke="#000" stroke-width="1.6" stroke-linejoin="round"/>
<path d="M578.3,936.3 C579.6,936.3 582.9,936.8 585.7,936.7 C588.4,936.6 591.9,936.0 595.0,935.7 C598.1,935.5 601.7,935.5 604.3,935.3 C607.0,935.2 609.2,935.1 611.0,934.7 C612.8,934.2 613.7,933.2 615.0,932.7 C616.3,932.1 617.9,931.2 619.0,931.3 C620.1,931.4 620.6,932.7 621.7,933.3 C622.8,933.9 624.1,934.6 625.7,934.9 C627.2,935.3 629.0,935.5 631.0,935.3 C633.0,935.2 635.4,934.7 637.7,934.0 C639.9,933.3 642.3,932.6 644.3,931.3 C646.3,930.1 648.1,928.6 649.7,926.7 C651.2,924.8 652.7,922.7 653.7,920.0 C654.7,917.3 655.1,915.1 655.7,910.7 C656.2,906.2 656.6,900.7 657.0,893.3 C657.4,886.0 657.9,874.0 658.3,866.7 C658.8,859.3 659.2,852.8 659.7,849.3 C660.2,845.8 660.8,844.7 661.4,845.6 C662.0,846.5 662.5,851.6 663.0,854.7 C663.5,857.7 664.0,861.8 664.6,864.0 C665.2,866.2 665.8,868.4 666.3,867.7 C666.9,867.1 667.5,863.1 668.1,860.0 C668.7,856.9 669.3,852.1 669.9,849.3 C670.5,846.6 671.2,844.8 671.7,843.3 C672.2,841.9 672.4,841.1 673.0,840.7 C673.6,840.2 674.3,840.7 675.0,840.7 C675.7,840.6 676.1,839.9 677.0,840.3 C677.9,840.6 679.2,841.9 680.3,842.7 C681.5,843.4 683.0,844.6 684.1,844.7 C685.2,844.7 686.1,843.5 687.0,842.9 C687.9,842.4 688.9,839.8 689.7,841.3 C690.4,842.8 691.0,848.2 691.7,852.0 C692.3,855.8 693.0,860.3 693.7,864.0 C694.3,867.7 694.9,872.2 695.7,874.0 C696.4,875.8 697.4,874.1 698.3,874.7 C699.2,875.2 700.2,876.0 701.0,877.3 C701.8,878.7 702.2,880.7 703.0,882.7 C703.8,884.7 704.8,886.9 705.7,889.3 C706.6,891.8 707.5,894.4 708.3,897.3 C709.2,900.2 710.1,905.6 710.7,906.7 C711.4,907.8 711.7,907.3 712.3,904.0 C712.9,900.7 713.7,892.9 714.3,886.7 C715.0,880.4 715.6,870.9 716.1,866.7 C716.6,862.4 716.9,860.8 717.4,861.1 C717.9,861.3 718.5,863.7 719.0,868.0 C719.5,872.3 720.0,880.9 720.6,886.7 C721.2,892.4 721.6,898.2 722.3,902.7 C723.1,907.1 724.0,910.2 725.0,913.3 C726.0,916.4 727.0,919.2 728.3,921.3 C729.7,923.4 731.2,924.7 733.0,926.0 C734.8,927.3 736.9,928.6 739.0,929.3 C741.1,930.1 743.0,930.2 745.7,930.4 C748.3,930.6 751.9,930.5 755.0,930.4 C758.1,930.3 761.4,930.2 764.3,930.0 C767.2,929.8 770.1,929.3 772.3,929.1 C774.6,928.8 776.8,928.7 777.7,928.7" fill="none" stroke="#000" stroke-width="1.6" stroke-linejoin="round"/>
<path d="M93.4,1050.3 C94.3,1050.4 97.2,1050.8 99.1,1051.0 C101.1,1051.3 103.5,1051.4 105.2,1051.8 C107.0,1052.2 108.0,1052.6 109.8,1053.3 C111.6,1054.0 113.9,1055.5 115.9,1056.1 C117.9,1056.6 120.0,1056.6 122.0,1056.7 C124.0,1056.7 126.1,1056.1 128.1,1056.4 C130.1,1056.7 132.2,1058.1 134.2,1058.7 C136.2,1059.2 137.5,1059.4 140.3,1059.7 C143.1,1060.1 147.7,1060.7 151.0,1060.6 C154.3,1060.5 157.6,1059.8 160.1,1059.1 C162.6,1058.5 164.2,1057.6 166.2,1056.7 C168.2,1055.8 170.4,1054.3 172.3,1053.6 C174.2,1053.0 176.2,1053.9 177.6,1052.6 C179.0,1051.3 179.7,1048.3 180.7,1045.7 C181.7,1043.1 182.8,1037.4 183.7,1036.9 C184.6,1036.4 185.1,1040.4 186.0,1042.7 C186.9,1044.9 187.9,1048.1 189.0,1050.3 C190.2,1052.4 191.6,1054.5 192.9,1055.6 C194.1,1056.8 195.4,1057.2 196.7,1057.1 C197.9,1057.1 199.2,1056.2 200.5,1055.2 C201.7,1054.1 202.6,1052.6 204.3,1051.0 C205.9,1049.5 208.3,1047.9 210.4,1045.7 C212.4,1043.5 214.8,1039.1 216.5,1037.8 C218.1,1036.5 219.0,1038.6 220.3,1038.1 C221.6,1037.6 222.8,1036.2 224.1,1035.0 C225.4,1033.9 226.9,1032.5 227.9,1031.2 C228.9,1030.0 229.4,1027.3 230.2,1027.4 C231.0,1027.6 231.7,1030.1 232.5,1032.0 C233.2,1033.9 234.0,1037.2 234.8,1038.9 C235.5,1040.5 236.0,1041.5 237.0,1041.9 C238.1,1042.3 239.5,1041.5 240.9,1041.1 C242.3,1040.8 244.2,1039.8 245.4,1039.9 C246.7,1040.1 247.2,1040.8 248.5,1041.9 C249.7,1043.0 251.7,1045.3 253.0,1046.5 C254.4,1047.7 255.7,1049.4 256.9,1049.1 C258.0,1048.7 258.9,1045.6 259.9,1044.2 C260.9,1042.7 261.8,1040.4 262.6,1040.4 C263.5,1040.4 264.4,1042.7 265.2,1044.2 C266.1,1045.6 266.8,1048.1 267.5,1049.1 C268.3,1050.0 268.8,1050.4 269.8,1050.0 C270.8,1049.5 272.1,1047.1 273.6,1046.5 C275.1,1045.9 277.0,1046.6 279.0,1046.5 C280.9,1046.4 283.3,1046.3 285.0,1046.0 C286.8,1045.8 288.3,1045.5 289.6,1045.0 C290.9,1044.4 291.8,1044.6 292.7,1042.7 C293.6,1040.8 294.3,1036.7 295.0,1033.5 C295.6,1030.3 296.1,1024.5 296.8,1023.6 C297.5,1022.7 298.2,1028.6 299.1,1028.2 C299.9,1027.8 301.0,1023.5 301.8,1021.3 C302.6,1019.2 303.3,1016.6 304.1,1015.2 C304.9,1013.9 305.7,1015.2 306.4,1013.4 C307.1,1011.6 307.7,1004.3 308.2,1004.6 C308.8,1004.9 309.2,1010.9 309.7,1015.2 C310.2,1019.6 310.7,1026.3 311.3,1030.5 C311.8,1034.7 312.5,1038.1 313.2,1040.4 C313.9,1042.7 314.6,1043.5 315.5,1044.2 C316.4,1044.9 317.8,1044.1 318.6,1044.5 C319.3,1044.9 319.5,1045.1 320.1,1046.5 C320.7,1047.8 321.5,1051.2 322.4,1052.6 C323.3,1054.0 324.2,1054.3 325.4,1054.9 C326.7,1055.4 328.2,1055.8 330.0,1056.1 C331.8,1056.4 334.1,1056.5 336.1,1056.6 C338.1,1056.6 340.2,1056.6 342.2,1056.6 C344.2,1056.6 346.5,1057.1 348.3,1056.6 C350.1,1056.0 351.3,1054.1 352.9,1053.0 C354.4,1052.0 356.0,1051.3 357.4,1050.5 C358.8,1049.6 360.1,1049.4 361.2,1047.7 C362.4,1046.0 363.3,1043.7 364.3,1040.1 C365.3,1036.5 366.2,1030.3 367.3,1026.4 C368.5,1022.4 370.0,1017.0 371.1,1016.5 C372.3,1016.0 373.2,1021.3 374.2,1023.3 C375.2,1025.4 376.3,1028.9 377.2,1028.7 C378.1,1028.4 378.8,1025.0 379.5,1021.8 C380.2,1018.6 380.9,1012.9 381.5,1009.6 C382.1,1006.4 382.6,1002.1 383.3,1002.3 C384.0,1002.6 384.9,1007.1 385.6,1011.1 C386.4,1015.2 387.1,1022.1 387.9,1026.4 C388.7,1030.7 389.3,1034.3 390.2,1037.0 C391.1,1039.8 392.2,1040.6 393.2,1043.1 C394.3,1045.7 395.1,1050.1 396.3,1052.3 C397.4,1054.4 398.7,1055.2 400.1,1056.1 C401.5,1057.0 403.3,1057.6 404.7,1057.6 C406.1,1057.6 407.3,1056.1 408.5,1056.1 C409.6,1056.1 410.5,1057.0 411.5,1057.6 C412.5,1058.3 413.4,1059.9 414.6,1059.9 C415.7,1059.9 417.0,1058.4 418.4,1057.6 C419.8,1056.9 421.4,1057.0 423.0,1055.3 C424.5,1053.7 426.3,1050.8 427.5,1047.7 C428.7,1044.7 429.6,1043.7 430.3,1037.0 C431.0,1030.4 431.3,1016.5 431.8,1008.1 C432.3,999.7 432.8,991.6 433.3,986.8 C433.8,981.9 434.2,978.9 434.7,979.1 C435.2,979.4 435.8,985.1 436.4,988.3 C436.9,991.5 437.5,996.0 438.2,998.2 C438.9,1000.3 439.7,999.6 440.5,1001.2 C441.2,1002.9 442.0,1004.9 442.8,1008.1 C443.5,1011.3 444.3,1015.7 445.0,1020.3 C445.8,1024.9 446.6,1030.7 447.3,1035.5 C448.1,1040.3 448.9,1045.7 449.6,1049.2 C450.4,1052.8 451.0,1054.8 451.9,1056.9 C452.8,1058.9 453.4,1060.4 455.0,1061.4 C456.5,1062.5 458.5,1062.8 461.0,1063.3 C463.6,1063.7 467.1,1064.0 470.2,1064.2 C473.2,1064.4 476.5,1064.6 479.3,1064.5 C482.1,1064.4 484.4,1064.2 487.0,1063.7 C489.5,1063.2 492.3,1062.2 494.6,1061.4 C496.9,1060.7 498.9,1060.5 500.7,1059.1 C502.4,1057.7 504.0,1055.7 505.2,1053.0 C506.5,1050.4 507.4,1047.6 508.3,1043.1 C509.2,1038.7 509.9,1033.5 510.6,1026.4 C511.3,1019.3 512.0,1008.3 512.6,1000.5 C513.1,992.6 513.6,983.9 514.1,979.1 C514.5,974.4 514.8,971.8 515.3,971.8 C515.8,971.8 516.3,973.1 516.8,979.1 C517.4,985.2 518.0,998.2 518.6,1008.1 C519.3,1018.0 519.9,1030.7 520.5,1038.6 C521.1,1046.4 521.4,1051.6 522.3,1055.3 C523.2,1059.1 524.3,1059.9 525.8,1061.1 C527.3,1062.4 529.6,1062.6 531.1,1063.0 C532.7,1063.3 533.7,1064.3 535.0,1063.3 C536.2,1062.2 537.6,1058.6 538.8,1056.9 C540.0,1055.2 541.1,1053.8 542.1,1053.0 C543.1,1052.3 543.7,1052.0 544.6,1052.3 C545.4,1052.5 546.1,1053.2 547.1,1054.6 C548.2,1056.0 549.8,1059.0 551.0,1060.7 C552.1,1062.3 552.7,1063.6 554.0,1064.5 C555.3,1065.3 556.6,1065.4 558.6,1065.7 C560.6,1066.0 564.7,1066.2 565.9,1066.3" fill="none" stroke="#000" stroke-width="1.6" stroke-linejoin="round"/>
<path d="M578.3,1066.6 C579.6,1066.5 582.9,1066.3 585.7,1066.1 C588.4,1065.8 591.4,1065.6 595.0,1065.3 C598.6,1065.0 604.1,1064.8 607.0,1064.3 C609.9,1063.9 610.8,1063.1 612.3,1062.6 C613.9,1062.1 615.1,1061.5 616.3,1061.3 C617.6,1061.0 618.7,1060.8 619.7,1061.0 C620.7,1061.2 621.1,1061.7 622.3,1062.3 C623.6,1063.0 625.3,1064.3 627.0,1064.7 C628.7,1065.2 630.3,1065.2 632.3,1065.0 C634.3,1064.8 636.8,1064.1 639.0,1063.7 C641.2,1063.2 643.8,1062.9 645.7,1062.3 C647.6,1061.8 649.0,1061.4 650.3,1060.3 C651.7,1059.2 652.8,1058.0 653.7,1055.7 C654.6,1053.3 655.1,1051.0 655.7,1046.3 C656.2,1041.7 656.6,1034.6 657.0,1027.7 C657.4,1020.8 658.0,1012.1 658.3,1005.0 C658.7,997.9 658.9,989.0 659.3,985.0 C659.6,981.0 660.2,981.0 660.6,981.0 C661.0,981.0 661.4,982.1 661.9,985.0 C662.4,987.9 662.9,994.8 663.7,998.3 C664.4,1001.9 665.6,1005.9 666.3,1006.3 C667.1,1006.8 667.5,1002.4 668.1,1001.0 C668.6,999.6 669.1,999.1 669.7,997.7 C670.3,996.2 670.9,993.8 671.7,992.3 C672.4,990.9 673.6,989.7 674.3,989.0 C675.1,988.3 675.6,988.0 676.3,988.3 C677.1,988.7 678.1,989.8 679.0,991.0 C679.9,992.2 680.9,994.4 681.7,995.4 C682.4,996.4 682.9,996.8 683.7,997.3 C684.4,997.7 685.3,997.4 686.3,998.1 C687.3,998.7 688.8,999.4 689.7,1001.0 C690.6,1002.6 691.0,1003.9 691.7,1007.7 C692.3,1011.4 693.0,1020.4 693.7,1023.7 C694.3,1027.0 695.0,1026.7 695.7,1027.4 C696.3,1028.1 697.0,1027.0 697.7,1027.7 C698.3,1028.4 698.9,1029.4 699.7,1031.7 C700.4,1033.9 701.4,1038.3 702.3,1041.0 C703.2,1043.7 704.1,1045.9 705.0,1047.7 C705.9,1049.4 706.8,1050.7 707.7,1051.7 C708.6,1052.6 709.4,1053.5 710.3,1053.3 C711.2,1053.0 712.2,1051.6 713.0,1050.3 C713.8,1049.1 714.6,1046.1 715.3,1045.7 C715.9,1045.2 716.4,1046.2 717.0,1047.7 C717.6,1049.1 718.2,1052.2 719.0,1054.3 C719.8,1056.5 720.6,1059.2 721.7,1060.7 C722.8,1062.2 723.9,1062.7 725.7,1063.4 C727.4,1064.1 729.7,1064.6 732.3,1065.0 C735.0,1065.4 737.9,1065.8 741.7,1066.1 C745.4,1066.3 750.6,1066.4 755.0,1066.6 C759.4,1066.8 764.6,1066.9 768.3,1067.0 C772.1,1067.1 776.1,1067.0 777.7,1067.0" fill="none" stroke="#000" stroke-width="1.6" stroke-linejoin="round"/>
<path d="M93.4,1165.8 C93.9,1165.8 95.4,1165.5 96.9,1165.8 C98.3,1166.2 100.3,1167.2 102.2,1168.0 C104.1,1168.7 106.3,1169.6 108.3,1170.4 C110.3,1171.2 112.3,1172.3 114.4,1173.0 C116.4,1173.7 118.2,1174.2 120.5,1174.5 C122.8,1174.9 126.1,1174.7 128.1,1175.0 C130.1,1175.3 130.9,1175.9 132.7,1176.5 C134.4,1177.1 136.2,1178.0 138.8,1178.6 C141.3,1179.2 145.4,1179.8 147.9,1180.2 C150.4,1180.5 151.7,1180.7 154.0,1180.6 C156.3,1180.6 159.3,1180.4 161.6,1179.9 C163.9,1179.3 165.8,1177.9 167.7,1177.1 C169.6,1176.4 171.4,1175.4 173.0,1175.3 C174.7,1175.2 176.2,1176.0 177.6,1176.5 C179.0,1177.0 179.8,1178.0 181.4,1178.0 C183.1,1178.1 185.2,1177.3 187.5,1176.8 C189.8,1176.4 193.1,1176.0 195.1,1175.3 C197.2,1174.5 198.2,1173.6 199.7,1172.2 C201.2,1170.8 202.5,1168.7 204.3,1166.9 C206.1,1165.1 208.9,1163.2 210.4,1161.6 C211.9,1159.9 212.4,1158.7 213.4,1157.0 C214.4,1155.3 215.2,1152.4 216.5,1151.7 C217.7,1151.0 219.5,1152.8 221.0,1152.7 C222.6,1152.7 224.3,1151.0 225.6,1151.2 C226.9,1151.4 227.7,1153.0 228.7,1154.0 C229.7,1154.9 230.8,1156.6 231.7,1157.0 C232.6,1157.4 233.1,1155.6 234.0,1156.2 C234.9,1156.9 235.9,1160.2 237.0,1160.8 C238.2,1161.4 239.5,1160.4 240.9,1160.0 C242.3,1159.7 244.0,1158.9 245.4,1158.8 C246.8,1158.8 248.0,1158.9 249.2,1159.7 C250.5,1160.6 251.7,1162.6 253.0,1163.9 C254.4,1165.1 256.3,1167.2 257.6,1167.4 C258.9,1167.5 259.7,1166.1 260.7,1164.9 C261.7,1163.8 262.8,1160.5 263.7,1160.4 C264.6,1160.2 265.1,1162.3 266.0,1163.9 C266.9,1165.5 267.9,1168.6 269.0,1170.0 C270.2,1171.3 271.2,1171.9 272.9,1171.9 C274.5,1172.0 276.9,1171.1 279.0,1170.4 C281.0,1169.7 283.3,1168.6 285.0,1167.7 C286.8,1166.8 288.2,1165.8 289.6,1164.9 C291.0,1164.0 292.4,1163.9 293.4,1162.3 C294.4,1160.8 295.0,1158.3 295.7,1155.5 C296.4,1152.7 296.8,1146.6 297.5,1145.6 C298.3,1144.5 299.2,1149.3 300.3,1149.1 C301.4,1148.8 303.0,1144.1 304.1,1144.0 C305.2,1144.0 306.1,1146.7 307.1,1148.6 C308.2,1150.5 309.2,1153.1 310.2,1155.5 C311.2,1157.9 312.2,1161.5 313.2,1163.1 C314.3,1164.7 315.3,1164.8 316.3,1164.9 C317.3,1165.1 318.4,1163.0 319.3,1163.9 C320.2,1164.7 320.9,1167.8 321.6,1170.0 C322.4,1172.1 323.0,1175.5 323.9,1176.8 C324.8,1178.2 325.9,1177.6 327.0,1178.0 C328.0,1178.4 328.5,1178.8 330.0,1179.1 C331.5,1179.4 334.1,1179.8 336.1,1180.0 C338.1,1180.2 340.2,1180.3 342.2,1180.3 C344.2,1180.3 346.3,1180.3 348.3,1180.0 C350.3,1179.7 352.7,1179.0 354.4,1178.5 C356.0,1178.0 356.9,1178.1 358.2,1177.3 C359.5,1176.4 360.9,1175.3 362.0,1173.5 C363.1,1171.7 364.0,1169.8 365.0,1166.6 C366.1,1163.4 367.0,1157.9 368.1,1154.4 C369.2,1151.0 370.4,1146.8 371.4,1146.0 C372.5,1145.3 373.4,1148.3 374.2,1149.9 C375.0,1151.4 375.8,1154.0 376.5,1155.2 C377.2,1156.3 377.8,1157.1 378.5,1156.7 C379.1,1156.3 379.6,1156.1 380.3,1152.9 C381.0,1149.7 381.8,1142.1 382.6,1137.7 C383.3,1133.2 384.2,1126.7 384.9,1126.2 C385.5,1125.7 386.1,1130.9 386.7,1134.6 C387.3,1138.3 388.0,1144.3 388.7,1148.3 C389.4,1152.4 390.1,1155.7 391.0,1159.0 C391.8,1162.3 393.0,1165.1 394.0,1168.1 C395.0,1171.2 396.0,1175.5 397.0,1177.3 C398.1,1179.1 398.8,1178.6 400.1,1179.1 C401.4,1179.6 403.3,1180.4 404.7,1180.3 C406.1,1180.2 407.5,1178.6 408.5,1178.5 C409.5,1178.5 410.0,1179.3 410.8,1180.0 C411.5,1180.7 412.2,1182.0 413.0,1182.6 C413.9,1183.2 415.0,1183.9 416.1,1183.7 C417.2,1183.4 418.6,1181.8 419.9,1181.1 C421.2,1180.4 422.6,1180.7 423.7,1179.6 C424.9,1178.4 425.7,1176.4 426.8,1174.2 C427.8,1172.1 429.0,1170.7 429.8,1166.6 C430.6,1162.6 431.2,1158.0 431.8,1149.9 C432.4,1141.7 433.0,1127.0 433.6,1117.9 C434.2,1108.7 434.7,1097.7 435.2,1095.2 C435.8,1092.7 436.1,1099.6 436.7,1102.6 C437.2,1105.6 437.9,1110.2 438.5,1113.3 C439.1,1116.3 439.8,1118.6 440.5,1120.9 C441.2,1123.2 442.1,1124.5 442.8,1127.0 C443.4,1129.5 444.0,1132.3 444.6,1136.1 C445.2,1140.0 445.9,1145.3 446.6,1149.9 C447.3,1154.4 448.1,1159.5 448.9,1163.6 C449.6,1167.6 450.3,1171.2 451.1,1174.2 C452.0,1177.3 452.8,1180.0 454.2,1181.9 C455.6,1183.8 457.4,1184.7 459.5,1185.7 C461.7,1186.6 464.6,1187.1 467.1,1187.6 C469.7,1188.2 473.0,1188.8 474.8,1188.7 C476.5,1188.6 476.9,1187.2 477.8,1187.2 C478.7,1187.2 478.6,1188.5 480.1,1188.7 C481.6,1188.9 484.5,1188.5 487.0,1188.3 C489.4,1188.1 492.5,1187.8 494.6,1187.5 C496.6,1187.2 497.6,1187.0 499.1,1186.4 C500.7,1185.9 502.3,1185.2 503.7,1184.1 C505.1,1183.1 506.4,1183.0 507.5,1180.3 C508.7,1177.7 509.7,1174.2 510.6,1168.1 C511.5,1162.0 512.2,1153.4 512.9,1143.8 C513.5,1134.1 513.9,1118.1 514.4,1110.2 C514.9,1102.4 515.3,1097.5 515.8,1096.5 C516.2,1095.5 516.6,1098.0 517.1,1104.1 C517.6,1110.2 518.1,1123.2 518.6,1133.1 C519.2,1143.0 519.8,1155.7 520.5,1163.6 C521.2,1171.4 521.7,1176.7 522.8,1180.3 C523.8,1184.0 525.2,1184.5 526.6,1185.7 C528.0,1186.8 529.9,1187.1 531.1,1187.2 C532.4,1187.3 532.9,1187.3 534.2,1186.4 C535.5,1185.5 537.4,1183.8 538.8,1181.9 C540.2,1180.0 541.4,1176.5 542.6,1175.0 C543.7,1173.5 544.6,1172.6 545.6,1172.7 C546.6,1172.8 547.7,1174.0 548.7,1175.8 C549.7,1177.5 550.7,1181.4 551.7,1183.4 C552.7,1185.4 553.4,1186.8 554.8,1187.6 C556.2,1188.5 558.2,1188.5 560.1,1188.7 C561.9,1189.0 564.9,1189.1 565.9,1189.2" fill="none" stroke="#000" stroke-width="1.6" stroke-linejoin="round"/>
<path d="M578.3,1189.3 C579.6,1189.3 582.9,1189.2 585.7,1188.9 C588.4,1188.7 591.2,1188.3 595.0,1188.0 C598.8,1187.7 605.2,1187.5 608.3,1187.1 C611.4,1186.6 611.9,1185.8 613.7,1185.3 C615.4,1184.9 617.6,1184.5 619.0,1184.4 C620.4,1184.3 621.1,1184.4 622.3,1184.9 C623.6,1185.4 624.9,1186.8 626.3,1187.3 C627.8,1187.9 629.1,1188.2 631.0,1188.3 C632.9,1188.3 635.2,1188.1 637.7,1187.7 C640.1,1187.4 643.4,1187.0 645.7,1186.3 C647.9,1185.5 649.6,1184.7 651.0,1183.3 C652.4,1182.0 653.4,1180.4 654.3,1178.0 C655.3,1175.6 655.9,1173.3 656.6,1168.7 C657.3,1164.0 657.9,1156.9 658.3,1150.0 C658.8,1143.1 658.9,1135.1 659.3,1127.3 C659.6,1119.6 659.9,1108.2 660.3,1103.3 C660.7,1098.4 661.2,1097.3 661.7,1098.0 C662.1,1098.7 662.4,1103.6 663.0,1107.3 C663.6,1111.1 664.3,1117.3 665.0,1120.7 C665.7,1124.0 666.4,1127.2 667.0,1127.6 C667.6,1128.0 667.8,1124.3 668.3,1123.3 C668.9,1122.4 669.7,1122.8 670.3,1122.0 C671.0,1121.2 671.7,1119.8 672.3,1118.7 C673.0,1117.6 673.6,1116.1 674.3,1115.3 C675.1,1114.6 676.1,1114.2 677.0,1114.3 C677.9,1114.4 678.8,1115.3 679.7,1116.0 C680.6,1116.7 681.4,1117.9 682.3,1118.7 C683.2,1119.4 684.1,1120.1 685.0,1120.4 C685.9,1120.7 686.8,1119.9 687.7,1120.4 C688.6,1120.9 689.6,1121.7 690.3,1123.3 C691.1,1124.9 691.7,1126.4 692.3,1130.0 C692.9,1133.6 693.4,1140.7 693.9,1144.7 C694.5,1148.7 695.0,1151.9 695.7,1154.0 C696.3,1156.1 697.0,1156.2 697.7,1157.3 C698.3,1158.4 699.0,1159.2 699.7,1160.7 C700.3,1162.1 700.9,1164.0 701.7,1166.0 C702.4,1168.0 703.3,1170.7 704.3,1172.7 C705.3,1174.7 706.7,1176.9 707.7,1178.0 C708.7,1179.1 709.4,1179.5 710.3,1179.1 C711.2,1178.6 712.1,1176.7 713.0,1175.3 C713.9,1173.9 714.9,1171.0 715.7,1170.7 C716.4,1170.3 717.0,1171.9 717.7,1173.3 C718.3,1174.8 718.9,1177.4 719.7,1179.3 C720.4,1181.2 721.1,1183.3 722.3,1184.7 C723.6,1186.0 724.9,1186.7 727.0,1187.3 C729.1,1188.0 731.4,1188.1 735.0,1188.4 C738.6,1188.7 743.9,1189.1 748.3,1189.3 C752.8,1189.6 756.8,1189.7 761.7,1189.7 C766.6,1189.8 775.0,1189.7 777.7,1189.7" fill="none" stroke="#000" stroke-width="1.6" stroke-linejoin="round"/>
<path d="M92.7,5.6 V1205 H566.7 M578.5,1205 H778.5" fill="none" stroke="#000" stroke-width="2.3"/>
<path d="M85.3,6.7 H92.7 M85.3,40.8 H92.7 M85.3,74.5 H92.7 M85.3,108 H92.7 M85.3,143.4 H92.7 M85.3,176.5 H92.7 M85.3,210 H92.7 M85.3,243.5 H92.7 M85.3,271 H92.7 M85.3,305 H92.7 M85.3,339 H92.7 M85.3,372.4 H92.7 M85.3,427.2 H92.7 M85.3,489.1 H92.7 M85.3,549.2 H92.7 M85.3,578.7 H92.7 M85.3,607.7 H92.7 M85.3,636.1 H92.7 M85.3,666 H92.7 M85.3,688.7 H92.7 M85.3,721.8 H92.7 M85.3,755.5 H92.7 M85.3,788.2 H92.7 M85.3,820.5 H92.7 M85.3,854.1 H92.7 M85.3,887.4 H92.7 M85.3,920.7 H92.7 M85.3,950.9 H92.7 M85.3,984 H92.7 M85.3,1016.8 H92.7 M85.3,1050.1 H92.7 M85.3,1073.4 H92.7 M85.3,1107 H92.7 M85.3,1140.3 H92.7 M85.3,1173.1 H92.7 " stroke="#000" stroke-width="2.3"/>
<path d="M127.0,1205 V1218.6 M200.4,1205 V1218.6 M273.7,1205 V1218.6 M347.0,1205 V1218.6 M420.4,1205 V1218.6 M493.7,1205 V1218.6 M644.5,1205 V1218.6 M712.6,1205 V1218.6 " stroke="#000" stroke-width="2.3"/>
<path d="M163.7,1205 V1211.5 M237.0,1205 V1211.5 M310.4,1205 V1211.5 M383.7,1205 V1211.5 M457.0,1205 V1211.5 M530.4,1205 V1211.5 M610.5,1205 V1211.5 M678.5,1205 V1211.5 M746.6,1205 V1211.5 " stroke="#000" stroke-width="2.3"/>
<path d="M560.9,1218.8 L572.3,1191.8 M572.8,1218.8 L584,1192" stroke="#000" stroke-width="2"/>
<text x="127.3" y="1246" font-size="22" text-anchor="middle">600</text>
<text x="200.7" y="1246" font-size="22" text-anchor="middle">800</text>
<text x="274.0" y="1246" font-size="22" text-anchor="middle">1000</text>
<text x="347.3" y="1246" font-size="22" text-anchor="middle">1200</text>
<text x="420.7" y="1246" font-size="22" text-anchor="middle">1400</text>
<text x="494.0" y="1246" font-size="22" text-anchor="middle">1600</text>
<text x="644.5" y="1246" font-size="22" text-anchor="middle">2800</text>
<text x="712.6" y="1246" font-size="22" text-anchor="middle">3000</text>
<text x="310" y="1296.8" font-size="30.6">Raman shift (cm<tspan font-size="20" dy="-12">-1</tspan><tspan dy="12">)</tspan></text>
<text transform="translate(55.3,590.2) rotate(-90)" font-size="30.5" text-anchor="middle">Intensity (a.u.)</text>
<text x="4.3" y="52.5" font-size="63">A</text>
<text x="108" y="44" font-size="31">Chol</text>
<text x="108" y="175.8" font-size="31">Cer</text>
<text x="108" y="307.5" font-size="31">SM</text>
<text x="108" y="422.5" font-size="31">PC1</text>
<text x="108" y="568" font-size="31">PC2</text>
<text x="108" y="725" font-size="31">GM1</text>
<text x="108" y="856.6" font-size="31">PCh</text>
<text x="108" y="986.8" font-size="31">PE</text>
<text x="108" y="1109.8" font-size="31">PA</text>
<text x="845.5" y="52.5" font-size="63">B</text>
<rect x="1116.1" y="319.6" width="11.6" height="11.6" fill="#00ff08" stroke="#12d812" stroke-width="0.8"/>
<rect x="1133.1" y="325.0" width="11.6" height="11.6" fill="#00ff08" stroke="#12d812" stroke-width="0.8"/>
<rect x="1041.4" y="347.5" width="11.6" height="11.6" fill="#00ff08" stroke="#12d812" stroke-width="0.8"/>
<rect x="1101.9" y="361.8" width="11.6" height="11.6" fill="#00ff08" stroke="#12d812" stroke-width="0.8"/>
<rect x="1194.2" y="211.1" width="11.6" height="11.6" fill="#00ff08" stroke="#12d812" stroke-width="0.8"/>
<rect x="1238.1" y="200.6" width="11.6" height="11.6" fill="#00ff08" stroke="#12d812" stroke-width="0.8"/>
<rect x="1254.4" y="200.1" width="11.6" height="11.6" fill="#00ff08" stroke="#12d812" stroke-width="0.8"/>
<rect x="1259.4" y="197.0" width="11.6" height="11.6" fill="#00ff08" stroke="#12d812" stroke-width="0.8"/>
<rect x="1254.4" y="234.4" width="11.6" height="11.6" fill="#00ff08" stroke="#12d812" stroke-width="0.8"/>
<rect x="1260.5" y="238.7" width="11.6" height="11.6" fill="#00ff08" stroke="#12d812" stroke-width="0.8"/>
<rect x="1246.3" y="244.1" width="11.6" height="11.6" fill="#00ff08" stroke="#12d812" stroke-width="0.8"/>
<rect x="1285.2" y="244.7" width="11.6" height="11.6" fill="#00ff08" stroke="#12d812" stroke-width="0.8"/>
<rect x="1282.1" y="247.9" width="11.6" height="11.6" fill="#00ff08" stroke="#12d812" stroke-width="0.8"/>
<rect x="1214.5" y="244.8" width="11.6" height="11.6" fill="#00ff08" stroke="#12d812" stroke-width="0.8"/>
<rect x="1188.1" y="254.0" width="11.6" height="11.6" fill="#00ff08" stroke="#12d812" stroke-width="0.8"/>
<rect x="1206.4" y="256.0" width="11.6" height="11.6" fill="#00ff08" stroke="#12d812" stroke-width="0.8"/>
<rect x="1209.9" y="252.4" width="11.6" height="11.6" fill="#00ff08" stroke="#12d812" stroke-width="0.8"/>
<rect x="1223.6" y="259.0" width="11.6" height="11.6" fill="#00ff08" stroke="#12d812" stroke-width="0.8"/>
<rect x="1242.9" y="269.7" width="11.6" height="11.6" fill="#00ff08" stroke="#12d812" stroke-width="0.8"/>
<rect x="1260.7" y="269.7" width="11.6" height="11.6" fill="#00ff08" stroke="#12d812" stroke-width="0.8"/>
<rect x="1289.0" y="275.0" width="11.6" height="11.6" fill="#00ff08" stroke="#12d812" stroke-width="0.8"/>
<rect x="1308.0" y="186.9" width="11.6" height="11.6" fill="#00ff08" stroke="#12d812" stroke-width="0.8"/>
<rect x="1325.9" y="182.4" width="11.6" height="11.6" fill="#00ff08" stroke="#12d812" stroke-width="0.8"/>
<rect x="1354.2" y="181.8" width="11.6" height="11.6" fill="#00ff08" stroke="#12d812" stroke-width="0.8"/>
<rect x="1352.8" y="194.1" width="11.6" height="11.6" fill="#00ff08" stroke="#12d812" stroke-width="0.8"/>
<rect x="1297.7" y="203.2" width="11.6" height="11.6" fill="#00ff08" stroke="#12d812" stroke-width="0.8"/>
<rect x="1312.8" y="212.2" width="11.6" height="11.6" fill="#00ff08" stroke="#12d812" stroke-width="0.8"/>
<rect x="1316.8" y="238.6" width="11.6" height="11.6" fill="#00ff08" stroke="#12d812" stroke-width="0.8"/>
<rect x="1372.6" y="248.1" width="11.6" height="11.6" fill="#00ff08" stroke="#12d812" stroke-width="0.8"/>
<rect x="1349.2" y="262.7" width="11.6" height="11.6" fill="#00ff08" stroke="#12d812" stroke-width="0.8"/>
<rect x="1344.0" y="278.2" width="11.6" height="11.6" fill="#00ff08" stroke="#12d812" stroke-width="0.8"/>
<rect x="1317.8" y="287.3" width="11.6" height="11.6" fill="#00ff08" stroke="#12d812" stroke-width="0.8"/>
<rect x="1360.1" y="204.5" width="11.6" height="11.6" fill="#00ff08" stroke="#12d812" stroke-width="0.8"/>
<rect x="1158.3" y="289.4" width="11.6" height="11.6" fill="#00ff08" stroke="#12d812" stroke-width="0.8"/>
<rect x="1186.5" y="294.7" width="11.6" height="11.6" fill="#00ff08" stroke="#12d812" stroke-width="0.8"/>
<rect x="1216.0" y="301.0" width="11.6" height="11.6" fill="#00ff08" stroke="#12d812" stroke-width="0.8"/>
<rect x="1234.0" y="295.7" width="11.6" height="11.6" fill="#00ff08" stroke="#12d812" stroke-width="0.8"/>
<rect x="1210.2" y="319.6" width="11.6" height="11.6" fill="#00ff08" stroke="#12d812" stroke-width="0.8"/>
<rect x="1181.7" y="202.9" width="11.6" height="11.6" fill="#0000ff" stroke="#0000c8" stroke-width="0.8"/>
<rect x="1286.1" y="208.0" width="11.6" height="11.6" fill="#0000ff" stroke="#0000c8" stroke-width="0.8"/>
<rect x="1261.0" y="232.1" width="11.6" height="11.6" fill="#0000ff" stroke="#0000c8" stroke-width="0.8"/>
<rect x="1272.1" y="258.8" width="11.6" height="11.6" fill="#0000ff" stroke="#0000c8" stroke-width="0.8"/>
<rect x="1149.4" y="262.1" width="11.6" height="11.6" fill="#0000ff" stroke="#0000c8" stroke-width="0.8"/>
<rect x="1277.5" y="283.0" width="11.6" height="11.6" fill="#0000ff" stroke="#0000c8" stroke-width="0.8"/>
<rect x="1181.2" y="376.5" width="11.6" height="11.6" fill="#0000ff" stroke="#0000c8" stroke-width="0.8"/>
<rect x="1321.3" y="140.8" width="11.6" height="11.6" fill="#0000ff" stroke="#0000c8" stroke-width="0.8"/>
<rect x="1337.6" y="147.9" width="11.6" height="11.6" fill="#0000ff" stroke="#0000c8" stroke-width="0.8"/>
<rect x="1378.2" y="164.6" width="11.6" height="11.6" fill="#0000ff" stroke="#0000c8" stroke-width="0.8"/>
<rect x="1378.7" y="181.7" width="11.6" height="11.6" fill="#0000ff" stroke="#0000c8" stroke-width="0.8"/>
<rect x="1429.0" y="177.9" width="11.6" height="11.6" fill="#0000ff" stroke="#0000c8" stroke-width="0.8"/>
<rect x="1317.9" y="178.9" width="11.6" height="11.6" fill="#0000ff" stroke="#0000c8" stroke-width="0.8"/>
<rect x="1355.0" y="184.2" width="11.6" height="11.6" fill="#0000ff" stroke="#0000c8" stroke-width="0.8"/>
<rect x="1361.2" y="180.7" width="11.6" height="11.6" fill="#0000ff" stroke="#0000c8" stroke-width="0.8"/>
<rect x="1339.9" y="218.2" width="11.6" height="11.6" fill="#0000ff" stroke="#0000c8" stroke-width="0.8"/>
<rect x="1349.2" y="230.2" width="11.6" height="11.6" fill="#0000ff" stroke="#0000c8" stroke-width="0.8"/>
<rect x="1361.4" y="196.6" width="11.6" height="11.6" fill="#0000ff" stroke="#0000c8" stroke-width="0.8"/>
<rect x="1344.4" y="197.4" width="11.6" height="11.6" fill="#0000ff" stroke="#0000c8" stroke-width="0.8"/>
<rect x="1302.5" y="198.6" width="11.6" height="11.6" fill="#0000ff" stroke="#0000c8" stroke-width="0.8"/>
<rect x="1313.9" y="196.7" width="11.6" height="11.6" fill="#0000ff" stroke="#0000c8" stroke-width="0.8"/>
<rect x="1408.2" y="198.2" width="11.6" height="11.6" fill="#0000ff" stroke="#0000c8" stroke-width="0.8"/>
<rect x="1433.6" y="202.7" width="11.6" height="11.6" fill="#0000ff" stroke="#0000c8" stroke-width="0.8"/>
<rect x="1436.5" y="206.7" width="11.6" height="11.6" fill="#0000ff" stroke="#0000c8" stroke-width="0.8"/>
<rect x="1447.2" y="215.9" width="11.6" height="11.6" fill="#0000ff" stroke="#0000c8" stroke-width="0.8"/>
<rect x="1387.2" y="206.7" width="11.6" height="11.6" fill="#0000ff" stroke="#0000c8" stroke-width="0.8"/>
<rect x="1308.6" y="222.7" width="11.6" height="11.6" fill="#0000ff" stroke="#0000c8" stroke-width="0.8"/>
<rect x="1335.3" y="209.6" width="11.6" height="11.6" fill="#0000ff" stroke="#0000c8" stroke-width="0.8"/>
<rect x="1332.7" y="221.0" width="11.6" height="11.6" fill="#0000ff" stroke="#0000c8" stroke-width="0.8"/>
<rect x="1355.4" y="209.3" width="11.6" height="11.6" fill="#0000ff" stroke="#0000c8" stroke-width="0.8"/>
<rect x="1338.2" y="228.5" width="11.6" height="11.6" fill="#0000ff" stroke="#0000c8" stroke-width="0.8"/>
<rect x="1344.2" y="230.2" width="11.6" height="11.6" fill="#0000ff" stroke="#0000c8" stroke-width="0.8"/>
<rect x="1361.7" y="229.4" width="11.6" height="11.6" fill="#0000ff" stroke="#0000c8" stroke-width="0.8"/>
<rect x="1355.4" y="240.9" width="11.6" height="11.6" fill="#0000ff" stroke="#0000c8" stroke-width="0.8"/>
<rect x="1376.4" y="232.0" width="11.6" height="11.6" fill="#0000ff" stroke="#0000c8" stroke-width="0.8"/>
<rect x="1372.3" y="216.2" width="11.6" height="11.6" fill="#0000ff" stroke="#0000c8" stroke-width="0.8"/>
<rect x="1341.0" y="243.7" width="11.6" height="11.6" fill="#0000ff" stroke="#0000c8" stroke-width="0.8"/>
<rect x="1341.0" y="249.2" width="11.6" height="11.6" fill="#0000ff" stroke="#0000c8" stroke-width="0.8"/>
<rect x="1314.1" y="246.4" width="11.6" height="11.6" fill="#0000ff" stroke="#0000c8" stroke-width="0.8"/>
<rect x="1301.4" y="258.8" width="11.6" height="11.6" fill="#0000ff" stroke="#0000c8" stroke-width="0.8"/>
<rect x="1400.5" y="230.2" width="11.6" height="11.6" fill="#0000ff" stroke="#0000c8" stroke-width="0.8"/>
<rect x="1430.8" y="231.2" width="11.6" height="11.6" fill="#0000ff" stroke="#0000c8" stroke-width="0.8"/>
<rect x="1299.4" y="278.0" width="11.6" height="11.6" fill="#0000ff" stroke="#0000c8" stroke-width="0.8"/>
<rect x="1329.9" y="277.0" width="11.6" height="11.6" fill="#0000ff" stroke="#0000c8" stroke-width="0.8"/>
<rect x="1328.9" y="293.3" width="11.6" height="11.6" fill="#0000ff" stroke="#0000c8" stroke-width="0.8"/>
<rect x="1341.1" y="295.8" width="11.6" height="11.6" fill="#0000ff" stroke="#0000c8" stroke-width="0.8"/>
<rect x="1353.3" y="293.3" width="11.6" height="11.6" fill="#0000ff" stroke="#0000c8" stroke-width="0.8"/>
<rect x="1352.3" y="309.0" width="11.6" height="11.6" fill="#0000ff" stroke="#0000c8" stroke-width="0.8"/>
<rect x="1344.2" y="284.2" width="11.6" height="11.6" fill="#0000ff" stroke="#0000c8" stroke-width="0.8"/>
<rect x="1426.0" y="279.0" width="11.6" height="11.6" fill="#0000ff" stroke="#0000c8" stroke-width="0.8"/>
<rect x="1435.6" y="280.6" width="11.6" height="11.6" fill="#0000ff" stroke="#0000c8" stroke-width="0.8"/>
<rect x="1455.8" y="295.3" width="11.6" height="11.6" fill="#0000ff" stroke="#0000c8" stroke-width="0.8"/>
<rect x="1351.3" y="322.2" width="11.6" height="11.6" fill="#0000ff" stroke="#0000c8" stroke-width="0.8"/>
<rect x="1380.1" y="324.7" width="11.6" height="11.6" fill="#0000ff" stroke="#0000c8" stroke-width="0.8"/>
<rect x="1335.0" y="332.0" width="11.6" height="11.6" fill="#0000ff" stroke="#0000c8" stroke-width="0.8"/>
<rect x="1326.7" y="336.6" width="11.6" height="11.6" fill="#0000ff" stroke="#0000c8" stroke-width="0.8"/>
<rect x="1356.4" y="334.0" width="11.6" height="11.6" fill="#0000ff" stroke="#0000c8" stroke-width="0.8"/>
<rect x="1366.0" y="337.6" width="11.6" height="11.6" fill="#0000ff" stroke="#0000c8" stroke-width="0.8"/>
<rect x="1343.1" y="342.1" width="11.6" height="11.6" fill="#0000ff" stroke="#0000c8" stroke-width="0.8"/>
<rect x="1349.2" y="343.7" width="11.6" height="11.6" fill="#0000ff" stroke="#0000c8" stroke-width="0.8"/>
<rect x="1359.2" y="352.8" width="11.6" height="11.6" fill="#0000ff" stroke="#0000c8" stroke-width="0.8"/>
<rect x="1339.1" y="363.5" width="11.6" height="11.6" fill="#0000ff" stroke="#0000c8" stroke-width="0.8"/>
<rect x="1347.2" y="371.6" width="11.6" height="11.6" fill="#0000ff" stroke="#0000c8" stroke-width="0.8"/>
<rect x="1345.2" y="374.2" width="11.6" height="11.6" fill="#0000ff" stroke="#0000c8" stroke-width="0.8"/>
<rect x="1363.5" y="383.3" width="11.6" height="11.6" fill="#0000ff" stroke="#0000c8" stroke-width="0.8"/>
<rect x="1340.6" y="389.9" width="11.6" height="11.6" fill="#0000ff" stroke="#0000c8" stroke-width="0.8"/>
<rect x="1349.2" y="393.5" width="11.6" height="11.6" fill="#0000ff" stroke="#0000c8" stroke-width="0.8"/>
<rect x="1362.5" y="399.6" width="11.6" height="11.6" fill="#0000ff" stroke="#0000c8" stroke-width="0.8"/>
<rect x="1345.2" y="408.0" width="11.6" height="11.6" fill="#0000ff" stroke="#0000c8" stroke-width="0.8"/>
<rect x="1398.3" y="400.1" width="11.6" height="11.6" fill="#0000ff" stroke="#0000c8" stroke-width="0.8"/>
<rect x="1330.4" y="415.3" width="11.6" height="11.6" fill="#0000ff" stroke="#0000c8" stroke-width="0.8"/>
<rect x="1325.9" y="423.2" width="11.6" height="11.6" fill="#0000ff" stroke="#0000c8" stroke-width="0.8"/>
<rect x="1314.3" y="433.5" width="11.6" height="11.6" fill="#0000ff" stroke="#0000c8" stroke-width="0.8"/>
<rect x="1346.2" y="424.5" width="11.6" height="11.6" fill="#0000ff" stroke="#0000c8" stroke-width="0.8"/>
<rect x="1364.0" y="417.9" width="11.6" height="11.6" fill="#0000ff" stroke="#0000c8" stroke-width="0.8"/>
<rect x="1365.5" y="429.6" width="11.6" height="11.6" fill="#0000ff" stroke="#0000c8" stroke-width="0.8"/>
<rect x="1334.8" y="443.8" width="11.6" height="11.6" fill="#0000ff" stroke="#0000c8" stroke-width="0.8"/>
<rect x="1359.4" y="441.8" width="11.6" height="11.6" fill="#0000ff" stroke="#0000c8" stroke-width="0.8"/>
<rect x="1350.3" y="446.9" width="11.6" height="11.6" fill="#0000ff" stroke="#0000c8" stroke-width="0.8"/>
<rect x="1348.0" y="457.6" width="11.6" height="11.6" fill="#0000ff" stroke="#0000c8" stroke-width="0.8"/>
<rect x="1365.5" y="452.8" width="11.6" height="11.6" fill="#0000ff" stroke="#0000c8" stroke-width="0.8"/>
<rect x="1393.7" y="449.9" width="11.6" height="11.6" fill="#0000ff" stroke="#0000c8" stroke-width="0.8"/>
<rect x="1347.5" y="479.9" width="11.6" height="11.6" fill="#0000ff" stroke="#0000c8" stroke-width="0.8"/>
<rect x="1359.1" y="485.5" width="11.6" height="11.6" fill="#0000ff" stroke="#0000c8" stroke-width="0.8"/>
<rect x="1374.3" y="482.2" width="11.6" height="11.6" fill="#0000ff" stroke="#0000c8" stroke-width="0.8"/>
<rect x="1129.5" y="198.1" width="11.6" height="11.6" fill="#ff0084" stroke="#d8006c" stroke-width="0.8"/>
<rect x="1079.2" y="243.3" width="11.6" height="11.6" fill="#ff0084" stroke="#d8006c" stroke-width="0.8"/>
<rect x="1067.8" y="262.1" width="11.6" height="11.6" fill="#ff0084" stroke="#d8006c" stroke-width="0.8"/>
<rect x="1105.1" y="259.7" width="11.6" height="11.6" fill="#ff0084" stroke="#d8006c" stroke-width="0.8"/>
<rect x="1106.0" y="266.4" width="11.6" height="11.6" fill="#ff0084" stroke="#d8006c" stroke-width="0.8"/>
<rect x="1049.2" y="284.0" width="11.6" height="11.6" fill="#ff0084" stroke="#d8006c" stroke-width="0.8"/>
<rect x="1008.6" y="301.4" width="11.6" height="11.6" fill="#ff0084" stroke="#d8006c" stroke-width="0.8"/>
<rect x="1028.2" y="298.7" width="11.6" height="11.6" fill="#ff0084" stroke="#d8006c" stroke-width="0.8"/>
<rect x="1048.2" y="316.2" width="11.6" height="11.6" fill="#ff0084" stroke="#d8006c" stroke-width="0.8"/>
<rect x="1065.5" y="321.9" width="11.6" height="11.6" fill="#ff0084" stroke="#d8006c" stroke-width="0.8"/>
<rect x="1126.0" y="298.7" width="11.6" height="11.6" fill="#ff0084" stroke="#d8006c" stroke-width="0.8"/>
<rect x="1013.2" y="343.7" width="11.6" height="11.6" fill="#ff0084" stroke="#d8006c" stroke-width="0.8"/>
<rect x="1240.3" y="158.4" width="11.6" height="11.6" fill="#ff0084" stroke="#d8006c" stroke-width="0.8"/>
<rect x="1224.3" y="168.7" width="11.6" height="11.6" fill="#ff0084" stroke="#d8006c" stroke-width="0.8"/>
<rect x="1185.4" y="187.3" width="11.6" height="11.6" fill="#ff0084" stroke="#d8006c" stroke-width="0.8"/>
<rect x="1157.4" y="225.9" width="11.6" height="11.6" fill="#ff0084" stroke="#d8006c" stroke-width="0.8"/>
<rect x="1208.3" y="222.0" width="11.6" height="11.6" fill="#ff0084" stroke="#d8006c" stroke-width="0.8"/>
<rect x="1215.5" y="228.1" width="11.6" height="11.6" fill="#ff0084" stroke="#d8006c" stroke-width="0.8"/>
<rect x="1210.0" y="241.0" width="11.6" height="11.6" fill="#ff0084" stroke="#d8006c" stroke-width="0.8"/>
<rect x="1140.9" y="243.0" width="11.6" height="11.6" fill="#ff0084" stroke="#d8006c" stroke-width="0.8"/>
<rect x="1145.3" y="253.9" width="11.6" height="11.6" fill="#ff0084" stroke="#d8006c" stroke-width="0.8"/>
<rect x="1173.0" y="262.4" width="11.6" height="11.6" fill="#ff0084" stroke="#d8006c" stroke-width="0.8"/>
<rect x="1181.5" y="258.9" width="11.6" height="11.6" fill="#ff0084" stroke="#d8006c" stroke-width="0.8"/>
<rect x="1198.0" y="271.0" width="11.6" height="11.6" fill="#ff0084" stroke="#d8006c" stroke-width="0.8"/>
<rect x="1222.6" y="268.7" width="11.6" height="11.6" fill="#ff0084" stroke="#d8006c" stroke-width="0.8"/>
<rect x="1314.5" y="95.9" width="11.6" height="11.6" fill="#ff0084" stroke="#d8006c" stroke-width="0.8"/>
<rect x="1369.4" y="104.6" width="11.6" height="11.6" fill="#ff0084" stroke="#d8006c" stroke-width="0.8"/>
<rect x="1310.2" y="135.1" width="11.6" height="11.6" fill="#ff0084" stroke="#d8006c" stroke-width="0.8"/>
<rect x="1324.7" y="143.0" width="11.6" height="11.6" fill="#ff0084" stroke="#d8006c" stroke-width="0.8"/>
<rect x="1340.1" y="151.1" width="11.6" height="11.6" fill="#ff0084" stroke="#d8006c" stroke-width="0.8"/>
<rect x="1356.7" y="133.8" width="11.6" height="11.6" fill="#ff0084" stroke="#d8006c" stroke-width="0.8"/>
<rect x="1373.1" y="129.9" width="11.6" height="11.6" fill="#ff0084" stroke="#d8006c" stroke-width="0.8"/>
<rect x="1291.2" y="172.2" width="11.6" height="11.6" fill="#ff0084" stroke="#d8006c" stroke-width="0.8"/>
<rect x="1325.2" y="172.8" width="11.6" height="11.6" fill="#ff0084" stroke="#d8006c" stroke-width="0.8"/>
<rect x="1361.2" y="171.8" width="11.6" height="11.6" fill="#ff0084" stroke="#d8006c" stroke-width="0.8"/>
<rect x="1372.2" y="179.4" width="11.6" height="11.6" fill="#ff0084" stroke="#d8006c" stroke-width="0.8"/>
<rect x="1299.8" y="189.9" width="11.6" height="11.6" fill="#ff0084" stroke="#d8006c" stroke-width="0.8"/>
<rect x="1328.9" y="190.7" width="11.6" height="11.6" fill="#ff0084" stroke="#d8006c" stroke-width="0.8"/>
<rect x="1316.2" y="202.7" width="11.6" height="11.6" fill="#ff0084" stroke="#d8006c" stroke-width="0.8"/>
<rect x="1345.4" y="204.1" width="11.6" height="11.6" fill="#ff0084" stroke="#d8006c" stroke-width="0.8"/>
<rect x="1382.4" y="208.2" width="11.6" height="11.6" fill="#ff0084" stroke="#d8006c" stroke-width="0.8"/>
<rect x="1304.5" y="216.2" width="11.6" height="11.6" fill="#ff0084" stroke="#d8006c" stroke-width="0.8"/>
<rect x="1319.5" y="218.1" width="11.6" height="11.6" fill="#ff0084" stroke="#d8006c" stroke-width="0.8"/>
<rect x="1359.6" y="212.6" width="11.6" height="11.6" fill="#ff0084" stroke="#d8006c" stroke-width="0.8"/>
<rect x="1288.9" y="227.3" width="11.6" height="11.6" fill="#ff0084" stroke="#d8006c" stroke-width="0.8"/>
<rect x="1329.4" y="240.6" width="11.6" height="11.6" fill="#ff0084" stroke="#d8006c" stroke-width="0.8"/>
<rect x="1340.1" y="260.4" width="11.6" height="11.6" fill="#ff0084" stroke="#d8006c" stroke-width="0.8"/>
<rect x="1335.0" y="269.2" width="11.6" height="11.6" fill="#ff0084" stroke="#d8006c" stroke-width="0.8"/>
<line x1="1304.0" y1="51.5" x2="1304.0" y2="546" stroke="#808080" stroke-width="1.3"/>
<line x1="962" y1="274.2" x2="1505.7" y2="274.2" stroke="#808080" stroke-width="1.3"/>
<path d="M962,55.5 V546.7 H1500" fill="none" stroke="#000" stroke-width="2.3"/>
<path d="M952,56.2 H962 M956.5,83.4 H962 M952,110.7 H962 M956.5,137.9 H962 M952,165.2 H962 M956.5,192.4 H962 M952,219.7 H962 M956.5,246.9 H962 M952,274.2 H962 M956.5,301.4 H962 M952,328.7 H962 M956.5,355.9 H962 M952,383.2 H962 M956.5,410.5 H962 M952,437.7 H962 M956.5,465.0 H962 M952,492.2 H962 M956.5,519.5 H962 M952,546.7 H962 " stroke="#000" stroke-width="2.3"/>
<path d="M961.6,546.7 V552 M1010.5,546.7 V557 M1059.5,546.7 V552 M1108.4,546.7 V557 M1157.3,546.7 V552 M1206.2,546.7 V557 M1255.1,546.7 V552 M1304.0,546.7 V557 M1352.9,546.7 V552 M1401.8,546.7 V557 M1450.7,546.7 V552 M1499.6,546.7 V557 " stroke="#000" stroke-width="2.3"/>
<text x="943.2" y="61.6" font-size="16" text-anchor="end">0.4</text>
<text x="943.2" y="116.1" font-size="16" text-anchor="end">0.3</text>
<text x="943.2" y="170.6" font-size="16" text-anchor="end">0.2</text>
<text x="943.2" y="225.1" font-size="16" text-anchor="end">0.1</text>
<text x="943.2" y="279.6" font-size="16" text-anchor="end">0.0</text>
<text x="943.2" y="334.1" font-size="16" text-anchor="end">-0.1</text>
<text x="943.2" y="388.6" font-size="16" text-anchor="end">-0.2</text>
<text x="943.2" y="443.1" font-size="16" text-anchor="end">-0.3</text>
<text x="943.2" y="497.6" font-size="16" text-anchor="end">-0.4</text>
<text x="943.2" y="552.1" font-size="16" text-anchor="end">-0.5</text>
<text x="1010.5" y="582.7" font-size="23.5" text-anchor="middle">-0.6</text>
<text x="1108.4" y="582.7" font-size="23.5" text-anchor="middle">-0.4</text>
<text x="1206.2" y="582.7" font-size="23.5" text-anchor="middle">-0.2</text>
<text x="1304.0" y="582.7" font-size="23.5" text-anchor="middle">0.0</text>
<text x="1401.8" y="582.7" font-size="23.5" text-anchor="middle">0.2</text>
<text x="1499.6" y="582.7" font-size="23.5" text-anchor="middle">0.4</text>
<text x="1229.5" y="626.6" font-size="28" text-anchor="middle">PC1</text>
<text transform="translate(903.2,301.6) rotate(-90)" font-size="28.5" text-anchor="middle">PC2</text>
<rect x="997.2" y="61.4" width="11.6" height="11.6" fill="#00ff08" stroke="#12d812" stroke-width="0.8"/>
<text x="1042.6" y="77.5" font-size="28.5">DF</text>
<rect x="997.2" y="96.5" width="11.6" height="11.6" fill="#0000ff" stroke="#0000c8" stroke-width="0.8"/>
<text x="1042.6" y="112.6" font-size="28.5">ASC</text>
<rect x="997.2" y="131.6" width="11.6" height="11.6" fill="#ff0084" stroke="#d8006c" stroke-width="0.8"/>
<text x="1042.6" y="147.70000000000002" font-size="28.5">BM-MSC</text>
<text x="841.5" y="765.5" font-size="63">C</text>
<rect x="971.2" y="863.5" width="222.5" height="44.4" fill="#bbbbdf"/>
<rect x="971.2" y="907.9" width="222.5" height="54.9" fill="#97d6f6"/>
<rect x="971.2" y="962.8" width="222.5" height="9.2" fill="#33b24f"/>
<rect x="971.2" y="972" width="222.5" height="12.8" fill="#b8d8a0"/>
<rect x="971.2" y="984.8" width="222.5" height="73.4" fill="#00aee8"/>
<rect x="971.2" y="1058.2" width="222.5" height="71.8" fill="#efa5c8"/>
<rect x="971.2" y="1130" width="222.5" height="22.9" fill="#de4a5b"/>
<rect x="1248.3" y="829.3" width="222.8" height="11.0" fill="#bbbbdf"/>
<rect x="1248.3" y="840.3" width="222.8" height="24.2" fill="#de4a5b"/>
<rect x="1248.3" y="864.5" width="222.8" height="24.7" fill="#efa5c8"/>
<rect x="1248.3" y="889.2" width="222.8" height="43.4" fill="#33b24f"/>
<rect x="1248.3" y="932.6" width="222.8" height="39.4" fill="#b8d8a0"/>
<rect x="1248.3" y="972" width="222.8" height="10.1" fill="#97d6f6"/>
<rect x="1248.3" y="982.1" width="222.8" height="144.2" fill="#00aee8"/>
<line x1="953.8" y1="972" x2="1493.4" y2="972" stroke="#000" stroke-width="2"/>
<path d="M950,754.5 H953.8 V1188.6 H950" fill="none" stroke="#000" stroke-width="1.8"/>
<path d="M946.8,826.9 H953.8 M946.8,972 H953.8 M946.8,1116.8 H953.8 M949.8,899.3 H953.8 M949.8,1043.8 H953.8 " stroke="#000" stroke-width="2"/>
<text x="939.9" y="831.1999999999999" font-size="14.5" text-anchor="end">2</text>
<text x="939.9" y="976.3" font-size="14.5" text-anchor="end">0</text>
<text x="939.9" y="1121.1" font-size="14.5" text-anchor="end">-2</text>
<text x="1081.2" y="1000" font-size="21" text-anchor="middle">PC1</text>
<text x="1359.8" y="1000" font-size="21" text-anchor="middle">PC2</text>
<rect x="1486" y="655.0" width="41.8" height="20.7" fill="#b8d8a0"/>
<text x="1532.2" y="671.7" font-size="19">Cer</text>
<rect x="1486" y="677.8" width="41.8" height="20.7" fill="#33b24f"/>
<text x="1532.2" y="694.5" font-size="19">Chol</text>
<rect x="1486" y="700.5" width="41.8" height="20.7" fill="#97d6f6"/>
<text x="1532.2" y="717.2" font-size="19">SM</text>
<rect x="1486" y="723.2" width="41.8" height="20.7" fill="#00aee8"/>
<text x="1532.2" y="740.0" font-size="19">GM1</text>
<rect x="1486" y="746.0" width="41.8" height="20.7" fill="#efa5c8"/>
<text x="1532.2" y="762.7" font-size="19">PCh</text>
<rect x="1486" y="768.8" width="41.8" height="20.7" fill="#de4a5b"/>
<text x="1532.2" y="785.5" font-size="19">PE</text>
<rect x="1486" y="791.5" width="41.8" height="20.7" fill="#bbbbdf"/>
<text x="1532.2" y="808.2" font-size="19">PA</text>
</svg></body></html>
